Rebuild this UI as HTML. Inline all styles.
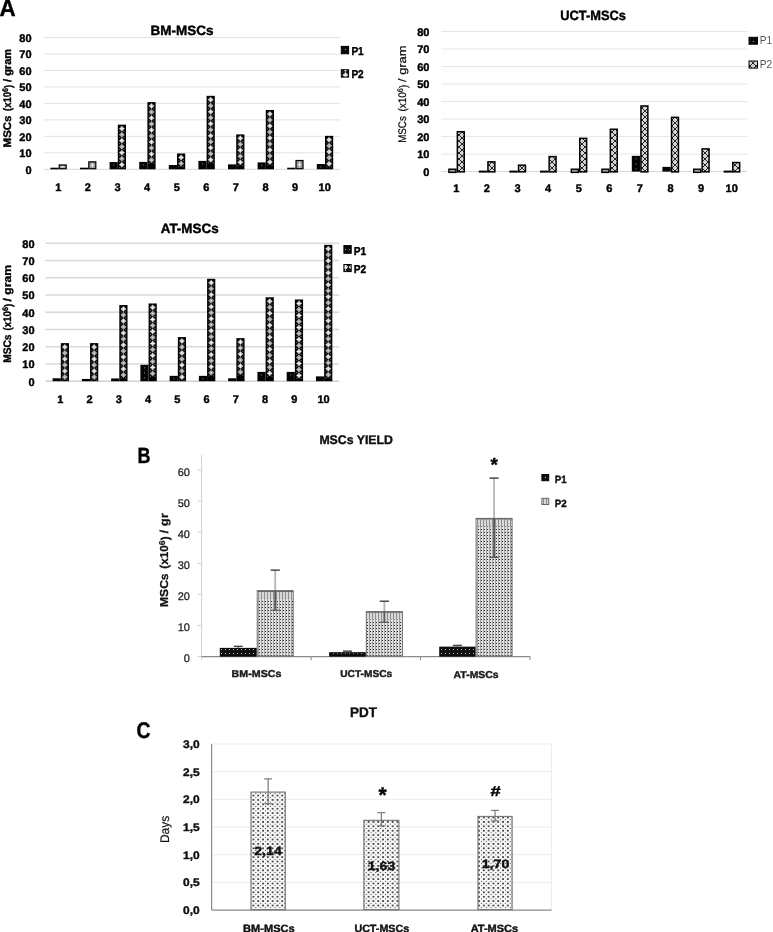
<!DOCTYPE html>
<html><head><meta charset="utf-8"><title>MSCs figure</title>
<style>
html,body{margin:0;padding:0;background:#fff;}
body{width:773px;height:932px;overflow:hidden;}
svg{display:block;font-family:"Liberation Sans", sans-serif;will-change:transform;}
</style></head>
<body>
<svg width="773" height="932" viewBox="0 0 773 932" shape-rendering="crispEdges">

<defs>
 <pattern id="pD" width="4" height="4" patternUnits="userSpaceOnUse">
  <rect width="4" height="4" fill="#0a0a0a"/>
  <rect x="1" y="1" width="1" height="1" fill="#9a9a9a"/>
 </pattern>
 <pattern id="pX" width="6" height="6" patternUnits="userSpaceOnUse">
  <rect width="6" height="6" fill="#1a1a1a"/>
  <path d="M0 3 L3 0 L6 3 L3 6 Z" fill="#b0b0b0"/>
  <rect x="2.5" y="1" width="1" height="4" fill="#f4f4f4"/>
  <rect x="1" y="2.5" width="4" height="1" fill="#f4f4f4"/>
 </pattern>
 <pattern id="pXL" width="6" height="6" patternUnits="userSpaceOnUse">
  <rect width="6" height="6" fill="#d4d4d4"/>
  <path d="M0 0 L6 6 M6 0 L0 6" stroke="#111" stroke-width="0.9"/>
  <rect x="2.6" y="0.8" width="0.8" height="1.4" fill="#ffffff"/>
  <rect x="2.6" y="3.8" width="0.8" height="1.4" fill="#ffffff"/>
  <rect x="0.6" y="2.6" width="1.4" height="0.8" fill="#ffffff"/>
  <rect x="4.0" y="2.6" width="1.4" height="0.8" fill="#ffffff"/>
 </pattern>
 <pattern id="pV" width="3" height="3" patternUnits="userSpaceOnUse">
  <rect width="3" height="3" fill="#e2e2e2"/>
  <rect x="0" y="0" width="1" height="3" fill="#a2a2a2"/>
  <rect x="1" y="1" width="1" height="1" fill="#2a2a2a"/>
 </pattern>
 <pattern id="pVs" width="3" height="3" patternUnits="userSpaceOnUse">
  <rect width="3" height="3" fill="#d8d8d8"/>
  <rect x="0" y="0" width="1" height="3" fill="#8e8e8e"/>
 </pattern>
 <pattern id="pB1" width="4" height="4" patternUnits="userSpaceOnUse">
  <rect width="4" height="4" fill="#111"/>
  <rect x="1" y="1" width="1" height="1" fill="#bbb"/>
 </pattern>
 <pattern id="pC" width="4.8" height="4.4" patternUnits="userSpaceOnUse">
  <rect width="4.8" height="4.4" fill="#f7f7f7"/>
  <rect x="0.7" y="0.6" width="1.5" height="1.3" fill="#2e2e2e"/>
  <rect x="3.1" y="2.8" width="1.5" height="1.3" fill="#4a4a4a"/>
 </pattern>
</defs>

<rect width="773" height="932" fill="#fff"/>
<g text-rendering="geometricPrecision" shape-rendering="auto">
<line x1="44.00" y1="169.30" x2="340.00" y2="169.30" stroke="#d6d6d6" stroke-width="1" />
<line x1="44.00" y1="152.83" x2="340.00" y2="152.83" stroke="#e2e2e2" stroke-width="1" />
<line x1="44.00" y1="136.35" x2="340.00" y2="136.35" stroke="#e2e2e2" stroke-width="1" />
<line x1="44.00" y1="119.88" x2="340.00" y2="119.88" stroke="#e2e2e2" stroke-width="1" />
<line x1="44.00" y1="103.40" x2="340.00" y2="103.40" stroke="#e2e2e2" stroke-width="1" />
<line x1="44.00" y1="86.92" x2="340.00" y2="86.92" stroke="#e2e2e2" stroke-width="1" />
<line x1="44.00" y1="70.45" x2="340.00" y2="70.45" stroke="#e2e2e2" stroke-width="1" />
<line x1="44.00" y1="53.97" x2="340.00" y2="53.97" stroke="#e2e2e2" stroke-width="1" />
<line x1="44.00" y1="37.50" x2="340.00" y2="37.50" stroke="#e2e2e2" stroke-width="1" />
<text x="31.60" y="173.60" font-size="11" font-weight="bold" fill="#000" stroke="#000" stroke-width="0.4" text-anchor="end" >0</text>
<text x="31.60" y="157.13" font-size="11" font-weight="bold" fill="#000" stroke="#000" stroke-width="0.4" text-anchor="end" >10</text>
<text x="31.60" y="140.65" font-size="11" font-weight="bold" fill="#000" stroke="#000" stroke-width="0.4" text-anchor="end" >20</text>
<text x="31.60" y="124.17" font-size="11" font-weight="bold" fill="#000" stroke="#000" stroke-width="0.4" text-anchor="end" >30</text>
<text x="31.60" y="107.70" font-size="11" font-weight="bold" fill="#000" stroke="#000" stroke-width="0.4" text-anchor="end" >40</text>
<text x="31.60" y="91.22" font-size="11" font-weight="bold" fill="#000" stroke="#000" stroke-width="0.4" text-anchor="end" >50</text>
<text x="31.60" y="74.75" font-size="11" font-weight="bold" fill="#000" stroke="#000" stroke-width="0.4" text-anchor="end" >60</text>
<text x="31.60" y="58.27" font-size="11" font-weight="bold" fill="#000" stroke="#000" stroke-width="0.4" text-anchor="end" >70</text>
<text x="31.60" y="41.80" font-size="11" font-weight="bold" fill="#000" stroke="#000" stroke-width="0.4" text-anchor="end" >80</text>
<rect x="50.40" y="167.70" width="8.20" height="1.60" fill="#000" />
<rect x="59.20" y="164.96" width="7.00" height="3.74" fill="#9a9a9a" stroke="#000" stroke-width="1.2" />
<line x1="60.90" y1="166.83" x2="64.50" y2="166.83" stroke="#f0f0f0" stroke-width="1" />
<line x1="62.70" y1="166.36" x2="62.70" y2="167.30" stroke="#f0f0f0" stroke-width="1" />
<text x="58.30" y="190.60" font-size="11" font-weight="bold" fill="#000" stroke="#000" stroke-width="0.4" text-anchor="middle" >1</text>
<rect x="80.00" y="167.70" width="8.20" height="1.60" fill="#000" />
<rect x="88.80" y="161.83" width="7.00" height="6.87" fill="#9a9a9a" stroke="#000" stroke-width="1.2" />
<line x1="90.50" y1="165.26" x2="94.10" y2="165.26" stroke="#f0f0f0" stroke-width="1" />
<line x1="92.30" y1="163.23" x2="92.30" y2="167.30" stroke="#f0f0f0" stroke-width="1" />
<text x="87.90" y="190.60" font-size="11" font-weight="bold" fill="#000" stroke="#000" stroke-width="0.4" text-anchor="middle" >2</text>
<rect x="109.60" y="162.05" width="8.20" height="7.25" fill="#050505" />
<rect x="113.20" y="164.55" width="1.00" height="1.00" fill="#8a8a8a" />
<rect x="117.80" y="124.65" width="8.20" height="44.65" fill="#000" />
<path d="M118.90 128.65 L121.90 125.65 L124.90 128.65 L121.90 131.65 Z" fill="#a4a4a4"/>
<line x1="119.90" y1="128.65" x2="123.90" y2="128.65" stroke="#f2f2f2" stroke-width="1" />
<line x1="121.90" y1="126.65" x2="121.90" y2="130.65" stroke="#f2f2f2" stroke-width="1" />
<rect x="119.20" y="131.15" width="1.00" height="1.00" fill="#7a7a7a" />
<rect x="123.60" y="131.15" width="1.00" height="1.00" fill="#7a7a7a" />
<path d="M118.90 134.65 L121.90 131.65 L124.90 134.65 L121.90 137.65 Z" fill="#a4a4a4"/>
<rect x="121.30" y="134.05" width="1.20" height="1.20" fill="#e8e8e8" />
<rect x="119.20" y="137.15" width="1.00" height="1.00" fill="#7a7a7a" />
<rect x="123.60" y="137.15" width="1.00" height="1.00" fill="#7a7a7a" />
<path d="M118.90 140.65 L121.90 137.65 L124.90 140.65 L121.90 143.65 Z" fill="#a4a4a4"/>
<line x1="119.90" y1="140.65" x2="123.90" y2="140.65" stroke="#f2f2f2" stroke-width="1" />
<line x1="121.90" y1="138.65" x2="121.90" y2="142.65" stroke="#f2f2f2" stroke-width="1" />
<rect x="119.20" y="143.15" width="1.00" height="1.00" fill="#7a7a7a" />
<rect x="123.60" y="143.15" width="1.00" height="1.00" fill="#7a7a7a" />
<path d="M118.90 146.65 L121.90 143.65 L124.90 146.65 L121.90 149.65 Z" fill="#a4a4a4"/>
<rect x="121.30" y="146.05" width="1.20" height="1.20" fill="#e8e8e8" />
<rect x="119.20" y="149.15" width="1.00" height="1.00" fill="#7a7a7a" />
<rect x="123.60" y="149.15" width="1.00" height="1.00" fill="#7a7a7a" />
<path d="M118.90 152.65 L121.90 149.65 L124.90 152.65 L121.90 155.65 Z" fill="#a4a4a4"/>
<line x1="119.90" y1="152.65" x2="123.90" y2="152.65" stroke="#f2f2f2" stroke-width="1" />
<line x1="121.90" y1="150.65" x2="121.90" y2="154.65" stroke="#f2f2f2" stroke-width="1" />
<rect x="119.20" y="155.15" width="1.00" height="1.00" fill="#7a7a7a" />
<rect x="123.60" y="155.15" width="1.00" height="1.00" fill="#7a7a7a" />
<path d="M118.90 158.65 L121.90 155.65 L124.90 158.65 L121.90 161.65 Z" fill="#a4a4a4"/>
<rect x="121.30" y="158.05" width="1.20" height="1.20" fill="#e8e8e8" />
<rect x="119.20" y="161.15" width="1.00" height="1.00" fill="#7a7a7a" />
<rect x="123.60" y="161.15" width="1.00" height="1.00" fill="#7a7a7a" />
<path d="M118.90 164.65 L121.90 161.65 L124.90 164.65 L121.90 167.65 Z" fill="#a4a4a4"/>
<line x1="119.90" y1="164.65" x2="123.90" y2="164.65" stroke="#f2f2f2" stroke-width="1" />
<line x1="121.90" y1="162.65" x2="121.90" y2="166.65" stroke="#f2f2f2" stroke-width="1" />
<rect x="119.20" y="167.15" width="1.00" height="1.00" fill="#7a7a7a" />
<rect x="123.60" y="167.15" width="1.00" height="1.00" fill="#7a7a7a" />
<text x="117.50" y="190.60" font-size="11" font-weight="bold" fill="#000" stroke="#000" stroke-width="0.4" text-anchor="middle" >3</text>
<rect x="139.20" y="161.89" width="8.20" height="7.41" fill="#050505" />
<rect x="142.80" y="164.39" width="1.00" height="1.00" fill="#8a8a8a" />
<rect x="147.40" y="102.08" width="8.20" height="67.22" fill="#000" />
<path d="M148.50 106.08 L151.50 103.08 L154.50 106.08 L151.50 109.08 Z" fill="#a4a4a4"/>
<line x1="149.50" y1="106.08" x2="153.50" y2="106.08" stroke="#f2f2f2" stroke-width="1" />
<line x1="151.50" y1="104.08" x2="151.50" y2="108.08" stroke="#f2f2f2" stroke-width="1" />
<rect x="148.80" y="108.58" width="1.00" height="1.00" fill="#7a7a7a" />
<rect x="153.20" y="108.58" width="1.00" height="1.00" fill="#7a7a7a" />
<path d="M148.50 112.08 L151.50 109.08 L154.50 112.08 L151.50 115.08 Z" fill="#a4a4a4"/>
<rect x="150.90" y="111.48" width="1.20" height="1.20" fill="#e8e8e8" />
<rect x="148.80" y="114.58" width="1.00" height="1.00" fill="#7a7a7a" />
<rect x="153.20" y="114.58" width="1.00" height="1.00" fill="#7a7a7a" />
<path d="M148.50 118.08 L151.50 115.08 L154.50 118.08 L151.50 121.08 Z" fill="#a4a4a4"/>
<line x1="149.50" y1="118.08" x2="153.50" y2="118.08" stroke="#f2f2f2" stroke-width="1" />
<line x1="151.50" y1="116.08" x2="151.50" y2="120.08" stroke="#f2f2f2" stroke-width="1" />
<rect x="148.80" y="120.58" width="1.00" height="1.00" fill="#7a7a7a" />
<rect x="153.20" y="120.58" width="1.00" height="1.00" fill="#7a7a7a" />
<path d="M148.50 124.08 L151.50 121.08 L154.50 124.08 L151.50 127.08 Z" fill="#a4a4a4"/>
<rect x="150.90" y="123.48" width="1.20" height="1.20" fill="#e8e8e8" />
<rect x="148.80" y="126.58" width="1.00" height="1.00" fill="#7a7a7a" />
<rect x="153.20" y="126.58" width="1.00" height="1.00" fill="#7a7a7a" />
<path d="M148.50 130.08 L151.50 127.08 L154.50 130.08 L151.50 133.08 Z" fill="#a4a4a4"/>
<line x1="149.50" y1="130.08" x2="153.50" y2="130.08" stroke="#f2f2f2" stroke-width="1" />
<line x1="151.50" y1="128.08" x2="151.50" y2="132.08" stroke="#f2f2f2" stroke-width="1" />
<rect x="148.80" y="132.58" width="1.00" height="1.00" fill="#7a7a7a" />
<rect x="153.20" y="132.58" width="1.00" height="1.00" fill="#7a7a7a" />
<path d="M148.50 136.08 L151.50 133.08 L154.50 136.08 L151.50 139.08 Z" fill="#a4a4a4"/>
<rect x="150.90" y="135.48" width="1.20" height="1.20" fill="#e8e8e8" />
<rect x="148.80" y="138.58" width="1.00" height="1.00" fill="#7a7a7a" />
<rect x="153.20" y="138.58" width="1.00" height="1.00" fill="#7a7a7a" />
<path d="M148.50 142.08 L151.50 139.08 L154.50 142.08 L151.50 145.08 Z" fill="#a4a4a4"/>
<line x1="149.50" y1="142.08" x2="153.50" y2="142.08" stroke="#f2f2f2" stroke-width="1" />
<line x1="151.50" y1="140.08" x2="151.50" y2="144.08" stroke="#f2f2f2" stroke-width="1" />
<rect x="148.80" y="144.58" width="1.00" height="1.00" fill="#7a7a7a" />
<rect x="153.20" y="144.58" width="1.00" height="1.00" fill="#7a7a7a" />
<path d="M148.50 148.08 L151.50 145.08 L154.50 148.08 L151.50 151.08 Z" fill="#a4a4a4"/>
<rect x="150.90" y="147.48" width="1.20" height="1.20" fill="#e8e8e8" />
<rect x="148.80" y="150.58" width="1.00" height="1.00" fill="#7a7a7a" />
<rect x="153.20" y="150.58" width="1.00" height="1.00" fill="#7a7a7a" />
<path d="M148.50 154.08 L151.50 151.08 L154.50 154.08 L151.50 157.08 Z" fill="#a4a4a4"/>
<line x1="149.50" y1="154.08" x2="153.50" y2="154.08" stroke="#f2f2f2" stroke-width="1" />
<line x1="151.50" y1="152.08" x2="151.50" y2="156.08" stroke="#f2f2f2" stroke-width="1" />
<rect x="148.80" y="156.58" width="1.00" height="1.00" fill="#7a7a7a" />
<rect x="153.20" y="156.58" width="1.00" height="1.00" fill="#7a7a7a" />
<path d="M148.50 160.08 L151.50 157.08 L154.50 160.08 L151.50 163.08 Z" fill="#a4a4a4"/>
<rect x="150.90" y="159.48" width="1.20" height="1.20" fill="#e8e8e8" />
<rect x="148.80" y="162.58" width="1.00" height="1.00" fill="#7a7a7a" />
<rect x="153.20" y="162.58" width="1.00" height="1.00" fill="#7a7a7a" />
<text x="147.10" y="190.60" font-size="11" font-weight="bold" fill="#000" stroke="#000" stroke-width="0.4" text-anchor="middle" >4</text>
<rect x="168.80" y="165.02" width="8.20" height="4.28" fill="#050505" />
<rect x="177.00" y="153.48" width="8.20" height="15.82" fill="#000" />
<path d="M178.10 157.48 L181.10 154.48 L184.10 157.48 L181.10 160.48 Z" fill="#a4a4a4"/>
<line x1="179.10" y1="157.48" x2="183.10" y2="157.48" stroke="#f2f2f2" stroke-width="1" />
<line x1="181.10" y1="155.48" x2="181.10" y2="159.48" stroke="#f2f2f2" stroke-width="1" />
<rect x="178.40" y="159.98" width="1.00" height="1.00" fill="#7a7a7a" />
<rect x="182.80" y="159.98" width="1.00" height="1.00" fill="#7a7a7a" />
<path d="M178.10 163.48 L181.10 160.48 L184.10 163.48 L181.10 166.48 Z" fill="#a4a4a4"/>
<rect x="180.50" y="162.88" width="1.20" height="1.20" fill="#e8e8e8" />
<rect x="178.40" y="165.98" width="1.00" height="1.00" fill="#7a7a7a" />
<rect x="182.80" y="165.98" width="1.00" height="1.00" fill="#7a7a7a" />
<text x="176.70" y="190.60" font-size="11" font-weight="bold" fill="#000" stroke="#000" stroke-width="0.4" text-anchor="middle" >5</text>
<rect x="198.40" y="160.90" width="8.20" height="8.40" fill="#050505" />
<rect x="202.00" y="163.40" width="1.00" height="1.00" fill="#8a8a8a" />
<rect x="206.60" y="95.82" width="8.20" height="73.48" fill="#000" />
<path d="M207.70 99.82 L210.70 96.82 L213.70 99.82 L210.70 102.82 Z" fill="#a4a4a4"/>
<line x1="208.70" y1="99.82" x2="212.70" y2="99.82" stroke="#f2f2f2" stroke-width="1" />
<line x1="210.70" y1="97.82" x2="210.70" y2="101.82" stroke="#f2f2f2" stroke-width="1" />
<rect x="208.00" y="102.32" width="1.00" height="1.00" fill="#7a7a7a" />
<rect x="212.40" y="102.32" width="1.00" height="1.00" fill="#7a7a7a" />
<path d="M207.70 105.82 L210.70 102.82 L213.70 105.82 L210.70 108.82 Z" fill="#a4a4a4"/>
<rect x="210.10" y="105.22" width="1.20" height="1.20" fill="#e8e8e8" />
<rect x="208.00" y="108.32" width="1.00" height="1.00" fill="#7a7a7a" />
<rect x="212.40" y="108.32" width="1.00" height="1.00" fill="#7a7a7a" />
<path d="M207.70 111.82 L210.70 108.82 L213.70 111.82 L210.70 114.82 Z" fill="#a4a4a4"/>
<line x1="208.70" y1="111.82" x2="212.70" y2="111.82" stroke="#f2f2f2" stroke-width="1" />
<line x1="210.70" y1="109.82" x2="210.70" y2="113.82" stroke="#f2f2f2" stroke-width="1" />
<rect x="208.00" y="114.32" width="1.00" height="1.00" fill="#7a7a7a" />
<rect x="212.40" y="114.32" width="1.00" height="1.00" fill="#7a7a7a" />
<path d="M207.70 117.82 L210.70 114.82 L213.70 117.82 L210.70 120.82 Z" fill="#a4a4a4"/>
<rect x="210.10" y="117.22" width="1.20" height="1.20" fill="#e8e8e8" />
<rect x="208.00" y="120.32" width="1.00" height="1.00" fill="#7a7a7a" />
<rect x="212.40" y="120.32" width="1.00" height="1.00" fill="#7a7a7a" />
<path d="M207.70 123.82 L210.70 120.82 L213.70 123.82 L210.70 126.82 Z" fill="#a4a4a4"/>
<line x1="208.70" y1="123.82" x2="212.70" y2="123.82" stroke="#f2f2f2" stroke-width="1" />
<line x1="210.70" y1="121.82" x2="210.70" y2="125.82" stroke="#f2f2f2" stroke-width="1" />
<rect x="208.00" y="126.32" width="1.00" height="1.00" fill="#7a7a7a" />
<rect x="212.40" y="126.32" width="1.00" height="1.00" fill="#7a7a7a" />
<path d="M207.70 129.82 L210.70 126.82 L213.70 129.82 L210.70 132.82 Z" fill="#a4a4a4"/>
<rect x="210.10" y="129.22" width="1.20" height="1.20" fill="#e8e8e8" />
<rect x="208.00" y="132.32" width="1.00" height="1.00" fill="#7a7a7a" />
<rect x="212.40" y="132.32" width="1.00" height="1.00" fill="#7a7a7a" />
<path d="M207.70 135.82 L210.70 132.82 L213.70 135.82 L210.70 138.82 Z" fill="#a4a4a4"/>
<line x1="208.70" y1="135.82" x2="212.70" y2="135.82" stroke="#f2f2f2" stroke-width="1" />
<line x1="210.70" y1="133.82" x2="210.70" y2="137.82" stroke="#f2f2f2" stroke-width="1" />
<rect x="208.00" y="138.32" width="1.00" height="1.00" fill="#7a7a7a" />
<rect x="212.40" y="138.32" width="1.00" height="1.00" fill="#7a7a7a" />
<path d="M207.70 141.82 L210.70 138.82 L213.70 141.82 L210.70 144.82 Z" fill="#a4a4a4"/>
<rect x="210.10" y="141.22" width="1.20" height="1.20" fill="#e8e8e8" />
<rect x="208.00" y="144.32" width="1.00" height="1.00" fill="#7a7a7a" />
<rect x="212.40" y="144.32" width="1.00" height="1.00" fill="#7a7a7a" />
<path d="M207.70 147.82 L210.70 144.82 L213.70 147.82 L210.70 150.82 Z" fill="#a4a4a4"/>
<line x1="208.70" y1="147.82" x2="212.70" y2="147.82" stroke="#f2f2f2" stroke-width="1" />
<line x1="210.70" y1="145.82" x2="210.70" y2="149.82" stroke="#f2f2f2" stroke-width="1" />
<rect x="208.00" y="150.32" width="1.00" height="1.00" fill="#7a7a7a" />
<rect x="212.40" y="150.32" width="1.00" height="1.00" fill="#7a7a7a" />
<path d="M207.70 153.82 L210.70 150.82 L213.70 153.82 L210.70 156.82 Z" fill="#a4a4a4"/>
<rect x="210.10" y="153.22" width="1.20" height="1.20" fill="#e8e8e8" />
<rect x="208.00" y="156.32" width="1.00" height="1.00" fill="#7a7a7a" />
<rect x="212.40" y="156.32" width="1.00" height="1.00" fill="#7a7a7a" />
<path d="M207.70 159.82 L210.70 156.82 L213.70 159.82 L210.70 162.82 Z" fill="#a4a4a4"/>
<line x1="208.70" y1="159.82" x2="212.70" y2="159.82" stroke="#f2f2f2" stroke-width="1" />
<line x1="210.70" y1="157.82" x2="210.70" y2="161.82" stroke="#f2f2f2" stroke-width="1" />
<rect x="208.00" y="162.32" width="1.00" height="1.00" fill="#7a7a7a" />
<rect x="212.40" y="162.32" width="1.00" height="1.00" fill="#7a7a7a" />
<text x="206.30" y="190.60" font-size="11" font-weight="bold" fill="#000" stroke="#000" stroke-width="0.4" text-anchor="middle" >6</text>
<rect x="228.00" y="164.36" width="8.20" height="4.94" fill="#050505" />
<rect x="236.20" y="134.37" width="8.20" height="34.93" fill="#000" />
<path d="M237.30 138.37 L240.30 135.37 L243.30 138.37 L240.30 141.37 Z" fill="#a4a4a4"/>
<line x1="238.30" y1="138.37" x2="242.30" y2="138.37" stroke="#f2f2f2" stroke-width="1" />
<line x1="240.30" y1="136.37" x2="240.30" y2="140.37" stroke="#f2f2f2" stroke-width="1" />
<rect x="237.60" y="140.87" width="1.00" height="1.00" fill="#7a7a7a" />
<rect x="242.00" y="140.87" width="1.00" height="1.00" fill="#7a7a7a" />
<path d="M237.30 144.37 L240.30 141.37 L243.30 144.37 L240.30 147.37 Z" fill="#a4a4a4"/>
<rect x="239.70" y="143.77" width="1.20" height="1.20" fill="#e8e8e8" />
<rect x="237.60" y="146.87" width="1.00" height="1.00" fill="#7a7a7a" />
<rect x="242.00" y="146.87" width="1.00" height="1.00" fill="#7a7a7a" />
<path d="M237.30 150.37 L240.30 147.37 L243.30 150.37 L240.30 153.37 Z" fill="#a4a4a4"/>
<line x1="238.30" y1="150.37" x2="242.30" y2="150.37" stroke="#f2f2f2" stroke-width="1" />
<line x1="240.30" y1="148.37" x2="240.30" y2="152.37" stroke="#f2f2f2" stroke-width="1" />
<rect x="237.60" y="152.87" width="1.00" height="1.00" fill="#7a7a7a" />
<rect x="242.00" y="152.87" width="1.00" height="1.00" fill="#7a7a7a" />
<path d="M237.30 156.37 L240.30 153.37 L243.30 156.37 L240.30 159.37 Z" fill="#a4a4a4"/>
<rect x="239.70" y="155.77" width="1.20" height="1.20" fill="#e8e8e8" />
<rect x="237.60" y="158.87" width="1.00" height="1.00" fill="#7a7a7a" />
<rect x="242.00" y="158.87" width="1.00" height="1.00" fill="#7a7a7a" />
<path d="M237.30 162.37 L240.30 159.37 L243.30 162.37 L240.30 165.37 Z" fill="#a4a4a4"/>
<line x1="238.30" y1="162.37" x2="242.30" y2="162.37" stroke="#f2f2f2" stroke-width="1" />
<line x1="240.30" y1="160.37" x2="240.30" y2="164.37" stroke="#f2f2f2" stroke-width="1" />
<rect x="237.60" y="164.87" width="1.00" height="1.00" fill="#7a7a7a" />
<rect x="242.00" y="164.87" width="1.00" height="1.00" fill="#7a7a7a" />
<text x="235.90" y="190.60" font-size="11" font-weight="bold" fill="#000" stroke="#000" stroke-width="0.4" text-anchor="middle" >7</text>
<rect x="257.60" y="162.38" width="8.20" height="6.92" fill="#050505" />
<rect x="261.20" y="164.88" width="1.00" height="1.00" fill="#8a8a8a" />
<rect x="265.80" y="109.99" width="8.20" height="59.31" fill="#000" />
<path d="M266.90 113.99 L269.90 110.99 L272.90 113.99 L269.90 116.99 Z" fill="#a4a4a4"/>
<line x1="267.90" y1="113.99" x2="271.90" y2="113.99" stroke="#f2f2f2" stroke-width="1" />
<line x1="269.90" y1="111.99" x2="269.90" y2="115.99" stroke="#f2f2f2" stroke-width="1" />
<rect x="267.20" y="116.49" width="1.00" height="1.00" fill="#7a7a7a" />
<rect x="271.60" y="116.49" width="1.00" height="1.00" fill="#7a7a7a" />
<path d="M266.90 119.99 L269.90 116.99 L272.90 119.99 L269.90 122.99 Z" fill="#a4a4a4"/>
<rect x="269.30" y="119.39" width="1.20" height="1.20" fill="#e8e8e8" />
<rect x="267.20" y="122.49" width="1.00" height="1.00" fill="#7a7a7a" />
<rect x="271.60" y="122.49" width="1.00" height="1.00" fill="#7a7a7a" />
<path d="M266.90 125.99 L269.90 122.99 L272.90 125.99 L269.90 128.99 Z" fill="#a4a4a4"/>
<line x1="267.90" y1="125.99" x2="271.90" y2="125.99" stroke="#f2f2f2" stroke-width="1" />
<line x1="269.90" y1="123.99" x2="269.90" y2="127.99" stroke="#f2f2f2" stroke-width="1" />
<rect x="267.20" y="128.49" width="1.00" height="1.00" fill="#7a7a7a" />
<rect x="271.60" y="128.49" width="1.00" height="1.00" fill="#7a7a7a" />
<path d="M266.90 131.99 L269.90 128.99 L272.90 131.99 L269.90 134.99 Z" fill="#a4a4a4"/>
<rect x="269.30" y="131.39" width="1.20" height="1.20" fill="#e8e8e8" />
<rect x="267.20" y="134.49" width="1.00" height="1.00" fill="#7a7a7a" />
<rect x="271.60" y="134.49" width="1.00" height="1.00" fill="#7a7a7a" />
<path d="M266.90 137.99 L269.90 134.99 L272.90 137.99 L269.90 140.99 Z" fill="#a4a4a4"/>
<line x1="267.90" y1="137.99" x2="271.90" y2="137.99" stroke="#f2f2f2" stroke-width="1" />
<line x1="269.90" y1="135.99" x2="269.90" y2="139.99" stroke="#f2f2f2" stroke-width="1" />
<rect x="267.20" y="140.49" width="1.00" height="1.00" fill="#7a7a7a" />
<rect x="271.60" y="140.49" width="1.00" height="1.00" fill="#7a7a7a" />
<path d="M266.90 143.99 L269.90 140.99 L272.90 143.99 L269.90 146.99 Z" fill="#a4a4a4"/>
<rect x="269.30" y="143.39" width="1.20" height="1.20" fill="#e8e8e8" />
<rect x="267.20" y="146.49" width="1.00" height="1.00" fill="#7a7a7a" />
<rect x="271.60" y="146.49" width="1.00" height="1.00" fill="#7a7a7a" />
<path d="M266.90 149.99 L269.90 146.99 L272.90 149.99 L269.90 152.99 Z" fill="#a4a4a4"/>
<line x1="267.90" y1="149.99" x2="271.90" y2="149.99" stroke="#f2f2f2" stroke-width="1" />
<line x1="269.90" y1="147.99" x2="269.90" y2="151.99" stroke="#f2f2f2" stroke-width="1" />
<rect x="267.20" y="152.49" width="1.00" height="1.00" fill="#7a7a7a" />
<rect x="271.60" y="152.49" width="1.00" height="1.00" fill="#7a7a7a" />
<path d="M266.90 155.99 L269.90 152.99 L272.90 155.99 L269.90 158.99 Z" fill="#a4a4a4"/>
<rect x="269.30" y="155.39" width="1.20" height="1.20" fill="#e8e8e8" />
<rect x="267.20" y="158.49" width="1.00" height="1.00" fill="#7a7a7a" />
<rect x="271.60" y="158.49" width="1.00" height="1.00" fill="#7a7a7a" />
<path d="M266.90 161.99 L269.90 158.99 L272.90 161.99 L269.90 164.99 Z" fill="#a4a4a4"/>
<line x1="267.90" y1="161.99" x2="271.90" y2="161.99" stroke="#f2f2f2" stroke-width="1" />
<line x1="269.90" y1="159.99" x2="269.90" y2="163.99" stroke="#f2f2f2" stroke-width="1" />
<rect x="267.20" y="164.49" width="1.00" height="1.00" fill="#7a7a7a" />
<rect x="271.60" y="164.49" width="1.00" height="1.00" fill="#7a7a7a" />
<text x="265.50" y="190.60" font-size="11" font-weight="bold" fill="#000" stroke="#000" stroke-width="0.4" text-anchor="middle" >8</text>
<rect x="287.20" y="167.70" width="8.20" height="1.60" fill="#000" />
<rect x="296.00" y="160.51" width="7.00" height="8.19" fill="#9a9a9a" stroke="#000" stroke-width="1.2" />
<line x1="297.70" y1="164.60" x2="301.30" y2="164.60" stroke="#f0f0f0" stroke-width="1" />
<line x1="299.50" y1="161.91" x2="299.50" y2="167.30" stroke="#f0f0f0" stroke-width="1" />
<text x="295.10" y="190.60" font-size="11" font-weight="bold" fill="#000" stroke="#000" stroke-width="0.4" text-anchor="middle" >9</text>
<rect x="316.80" y="164.03" width="8.20" height="5.27" fill="#050505" />
<rect x="320.40" y="166.53" width="1.00" height="1.00" fill="#8a8a8a" />
<rect x="325.00" y="135.86" width="8.20" height="33.44" fill="#000" />
<path d="M326.10 139.86 L329.10 136.86 L332.10 139.86 L329.10 142.86 Z" fill="#a4a4a4"/>
<line x1="327.10" y1="139.86" x2="331.10" y2="139.86" stroke="#f2f2f2" stroke-width="1" />
<line x1="329.10" y1="137.86" x2="329.10" y2="141.86" stroke="#f2f2f2" stroke-width="1" />
<rect x="326.40" y="142.36" width="1.00" height="1.00" fill="#7a7a7a" />
<rect x="330.80" y="142.36" width="1.00" height="1.00" fill="#7a7a7a" />
<path d="M326.10 145.86 L329.10 142.86 L332.10 145.86 L329.10 148.86 Z" fill="#a4a4a4"/>
<rect x="328.50" y="145.26" width="1.20" height="1.20" fill="#e8e8e8" />
<rect x="326.40" y="148.36" width="1.00" height="1.00" fill="#7a7a7a" />
<rect x="330.80" y="148.36" width="1.00" height="1.00" fill="#7a7a7a" />
<path d="M326.10 151.86 L329.10 148.86 L332.10 151.86 L329.10 154.86 Z" fill="#a4a4a4"/>
<line x1="327.10" y1="151.86" x2="331.10" y2="151.86" stroke="#f2f2f2" stroke-width="1" />
<line x1="329.10" y1="149.86" x2="329.10" y2="153.86" stroke="#f2f2f2" stroke-width="1" />
<rect x="326.40" y="154.36" width="1.00" height="1.00" fill="#7a7a7a" />
<rect x="330.80" y="154.36" width="1.00" height="1.00" fill="#7a7a7a" />
<path d="M326.10 157.86 L329.10 154.86 L332.10 157.86 L329.10 160.86 Z" fill="#a4a4a4"/>
<rect x="328.50" y="157.26" width="1.20" height="1.20" fill="#e8e8e8" />
<rect x="326.40" y="160.36" width="1.00" height="1.00" fill="#7a7a7a" />
<rect x="330.80" y="160.36" width="1.00" height="1.00" fill="#7a7a7a" />
<path d="M326.10 163.86 L329.10 160.86 L332.10 163.86 L329.10 166.86 Z" fill="#a4a4a4"/>
<line x1="327.10" y1="163.86" x2="331.10" y2="163.86" stroke="#f2f2f2" stroke-width="1" />
<line x1="329.10" y1="161.86" x2="329.10" y2="165.86" stroke="#f2f2f2" stroke-width="1" />
<rect x="326.40" y="166.36" width="1.00" height="1.00" fill="#7a7a7a" />
<rect x="330.80" y="166.36" width="1.00" height="1.00" fill="#7a7a7a" />
<text x="324.70" y="190.60" font-size="11" font-weight="bold" fill="#000" stroke="#000" stroke-width="0.4" text-anchor="middle" >10</text>
<text x="182.10" y="35.20" font-size="13.5" font-weight="bold" fill="#000" stroke="#000" stroke-width="0.4" text-anchor="middle" textLength="63.00" lengthAdjust="spacingAndGlyphs" >BM-MSCs</text>
<g transform="translate(11.20 0) rotate(-90)" font-size="11" font-weight="bold" fill="#000" stroke="#000" stroke-width="0.35"><text x="-147.40" y="0" textLength="31.80" lengthAdjust="spacingAndGlyphs">MSCs</text><text x="-111.00" y="0" textLength="26.20" lengthAdjust="spacingAndGlyphs">(x10<tspan font-size="0.74em" dy="-0.36em">6</tspan><tspan dy="0.36em">)</tspan></text><text x="-82.00" y="0" textLength="33.10" lengthAdjust="spacingAndGlyphs">/ gram</text></g>
<rect x="341.30" y="46.40" width="7.30" height="7.40" fill="url(#pD)" stroke="#000" stroke-width="1" />
<rect x="341.30" y="69.70" width="7.30" height="7.40" fill="url(#pX)" stroke="#000" stroke-width="1" />
<text x="351.40" y="55.10" font-size="11.5" font-weight="bold" fill="#000" stroke="#000" stroke-width="0.4" textLength="12.30" lengthAdjust="spacingAndGlyphs" >P1</text>
<text x="351.40" y="78.40" font-size="11.5" font-weight="bold" fill="#000" stroke="#000" stroke-width="0.4" textLength="12.30" lengthAdjust="spacingAndGlyphs" >P2</text>
<line x1="441.40" y1="171.60" x2="747.00" y2="171.60" stroke="#d6d6d6" stroke-width="1" />
<line x1="441.40" y1="154.09" x2="747.00" y2="154.09" stroke="#e6e6e6" stroke-width="1" />
<line x1="441.40" y1="136.57" x2="747.00" y2="136.57" stroke="#e6e6e6" stroke-width="1" />
<line x1="441.40" y1="119.06" x2="747.00" y2="119.06" stroke="#e6e6e6" stroke-width="1" />
<line x1="441.40" y1="101.55" x2="747.00" y2="101.55" stroke="#e6e6e6" stroke-width="1" />
<line x1="441.40" y1="84.04" x2="747.00" y2="84.04" stroke="#e6e6e6" stroke-width="1" />
<line x1="441.40" y1="66.52" x2="747.00" y2="66.52" stroke="#e6e6e6" stroke-width="1" />
<line x1="441.40" y1="49.01" x2="747.00" y2="49.01" stroke="#e6e6e6" stroke-width="1" />
<line x1="441.40" y1="31.50" x2="747.00" y2="31.50" stroke="#e6e6e6" stroke-width="1" />
<text x="429.40" y="175.80" font-size="11" font-weight="bold" fill="#000" stroke="#000" stroke-width="0.4" text-anchor="end" >0</text>
<text x="429.40" y="158.29" font-size="11" font-weight="bold" fill="#000" stroke="#000" stroke-width="0.4" text-anchor="end" >10</text>
<text x="429.40" y="140.77" font-size="11" font-weight="bold" fill="#000" stroke="#000" stroke-width="0.4" text-anchor="end" >20</text>
<text x="429.40" y="123.26" font-size="11" font-weight="bold" fill="#000" stroke="#000" stroke-width="0.4" text-anchor="end" >30</text>
<text x="429.40" y="105.75" font-size="11" font-weight="bold" fill="#000" stroke="#000" stroke-width="0.4" text-anchor="end" >40</text>
<text x="429.40" y="88.24" font-size="11" font-weight="bold" fill="#000" stroke="#000" stroke-width="0.4" text-anchor="end" >50</text>
<text x="429.40" y="70.72" font-size="11" font-weight="bold" fill="#000" stroke="#000" stroke-width="0.4" text-anchor="end" >60</text>
<text x="429.40" y="53.21" font-size="11" font-weight="bold" fill="#000" stroke="#000" stroke-width="0.4" text-anchor="end" >70</text>
<text x="429.40" y="35.70" font-size="11" font-weight="bold" fill="#000" stroke="#000" stroke-width="0.4" text-anchor="end" >80</text>
<rect x="448.90" y="169.20" width="7.00" height="3.20" fill="#9a9a9a" stroke="#000" stroke-width="1.4" />
<rect x="457.35" y="131.72" width="6.90" height="40.13" fill="url(#pXL)" stroke="#000" stroke-width="1.5" />
<text x="456.30" y="191.80" font-size="11" font-weight="bold" fill="#000" stroke="#000" stroke-width="0.4" text-anchor="middle" >1</text>
<rect x="478.80" y="170.60" width="8.40" height="2.00" fill="#000" />
<rect x="487.95" y="161.84" width="6.90" height="10.01" fill="url(#pXL)" stroke="#000" stroke-width="1.5" />
<text x="486.90" y="191.80" font-size="11" font-weight="bold" fill="#000" stroke="#000" stroke-width="0.4" text-anchor="middle" >2</text>
<rect x="509.40" y="170.60" width="8.40" height="2.00" fill="#000" />
<rect x="518.55" y="165.17" width="6.90" height="6.68" fill="url(#pXL)" stroke="#000" stroke-width="1.5" />
<text x="517.50" y="191.80" font-size="11" font-weight="bold" fill="#000" stroke="#000" stroke-width="0.4" text-anchor="middle" >3</text>
<rect x="540.00" y="170.60" width="8.40" height="2.00" fill="#000" />
<rect x="549.15" y="156.59" width="6.90" height="15.26" fill="url(#pXL)" stroke="#000" stroke-width="1.5" />
<text x="548.10" y="191.80" font-size="11" font-weight="bold" fill="#000" stroke="#000" stroke-width="0.4" text-anchor="middle" >4</text>
<rect x="571.30" y="169.20" width="7.00" height="3.20" fill="#9a9a9a" stroke="#000" stroke-width="1.4" />
<rect x="579.75" y="138.38" width="6.90" height="33.47" fill="url(#pXL)" stroke="#000" stroke-width="1.5" />
<text x="578.70" y="191.80" font-size="11" font-weight="bold" fill="#000" stroke="#000" stroke-width="0.4" text-anchor="middle" >5</text>
<rect x="601.90" y="169.20" width="7.00" height="3.20" fill="#9a9a9a" stroke="#000" stroke-width="1.4" />
<rect x="610.35" y="129.27" width="6.90" height="42.58" fill="url(#pXL)" stroke="#000" stroke-width="1.5" />
<text x="609.30" y="191.80" font-size="11" font-weight="bold" fill="#000" stroke="#000" stroke-width="0.4" text-anchor="middle" >6</text>
<rect x="631.80" y="155.84" width="8.40" height="15.76" fill="#050505" />
<rect x="635.50" y="158.34" width="1.00" height="1.00" fill="#8a8a8a" />
<rect x="635.50" y="163.34" width="1.00" height="1.00" fill="#8a8a8a" />
<rect x="635.50" y="168.34" width="1.00" height="1.00" fill="#8a8a8a" />
<rect x="640.95" y="105.98" width="6.90" height="65.87" fill="url(#pXL)" stroke="#000" stroke-width="1.5" />
<text x="639.90" y="191.80" font-size="11" font-weight="bold" fill="#000" stroke="#000" stroke-width="0.4" text-anchor="middle" >7</text>
<rect x="662.40" y="166.87" width="8.40" height="4.73" fill="#050505" />
<rect x="671.55" y="117.36" width="6.90" height="54.49" fill="url(#pXL)" stroke="#000" stroke-width="1.5" />
<text x="670.50" y="191.80" font-size="11" font-weight="bold" fill="#000" stroke="#000" stroke-width="0.4" text-anchor="middle" >8</text>
<rect x="693.70" y="169.20" width="7.00" height="3.20" fill="#9a9a9a" stroke="#000" stroke-width="1.4" />
<rect x="702.15" y="148.88" width="6.90" height="22.97" fill="url(#pXL)" stroke="#000" stroke-width="1.5" />
<text x="701.10" y="191.80" font-size="11" font-weight="bold" fill="#000" stroke="#000" stroke-width="0.4" text-anchor="middle" >9</text>
<rect x="723.60" y="170.60" width="8.40" height="2.00" fill="#000" />
<rect x="732.75" y="162.54" width="6.90" height="9.31" fill="url(#pXL)" stroke="#000" stroke-width="1.5" />
<text x="731.70" y="191.80" font-size="11" font-weight="bold" fill="#000" stroke="#000" stroke-width="0.4" text-anchor="middle" >10</text>
<text x="593.05" y="20.20" font-size="13.5" font-weight="bold" fill="#000" stroke="#000" stroke-width="0.4" text-anchor="middle" textLength="65.70" lengthAdjust="spacingAndGlyphs" >UCT-MSCs</text>
<g transform="translate(406.30 0) rotate(-90)" font-size="11" font-weight="normal" fill="#000" stroke="#000" stroke-width="0.2"><text x="-142.80" y="0" textLength="26.60" lengthAdjust="spacingAndGlyphs">MSCs</text><text x="-111.60" y="0" textLength="26.80" lengthAdjust="spacingAndGlyphs">(x10<tspan font-size="0.74em" dy="-0.36em">6</tspan><tspan dy="0.36em">)</tspan></text><text x="-82.00" y="0" textLength="36.50" lengthAdjust="spacingAndGlyphs">/ gram</text></g>
<rect x="749.00" y="37.30" width="8.50" height="6.90" fill="url(#pD)" stroke="#000" stroke-width="1" />
<rect x="749.00" y="61.00" width="8.50" height="7.10" fill="url(#pXL)" stroke="#000" stroke-width="1" />
<text x="759.80" y="44.30" font-size="11.5" font-weight="normal" fill="#595959" textLength="12.50" lengthAdjust="spacingAndGlyphs" >P1</text>
<text x="759.80" y="68.20" font-size="11.5" font-weight="normal" fill="#595959" textLength="12.50" lengthAdjust="spacingAndGlyphs" >P2</text>
<line x1="45.50" y1="381.20" x2="339.20" y2="381.20" stroke="#d0d0d0" stroke-width="1.4" />
<line x1="45.50" y1="363.96" x2="339.20" y2="363.96" stroke="#d8d8d8" stroke-width="1.4" />
<line x1="45.50" y1="346.73" x2="339.20" y2="346.73" stroke="#d8d8d8" stroke-width="1.4" />
<line x1="45.50" y1="329.49" x2="339.20" y2="329.49" stroke="#d8d8d8" stroke-width="1.4" />
<line x1="45.50" y1="312.25" x2="339.20" y2="312.25" stroke="#d8d8d8" stroke-width="1.4" />
<line x1="45.50" y1="295.01" x2="339.20" y2="295.01" stroke="#d8d8d8" stroke-width="1.4" />
<line x1="45.50" y1="277.77" x2="339.20" y2="277.77" stroke="#d8d8d8" stroke-width="1.4" />
<line x1="45.50" y1="260.54" x2="339.20" y2="260.54" stroke="#d8d8d8" stroke-width="1.4" />
<line x1="45.50" y1="243.30" x2="339.20" y2="243.30" stroke="#d8d8d8" stroke-width="1.4" />
<text x="34.60" y="385.50" font-size="11" font-weight="bold" fill="#000" stroke="#000" stroke-width="0.4" text-anchor="end" >0</text>
<text x="34.60" y="368.26" font-size="11" font-weight="bold" fill="#000" stroke="#000" stroke-width="0.4" text-anchor="end" >10</text>
<text x="34.60" y="351.03" font-size="11" font-weight="bold" fill="#000" stroke="#000" stroke-width="0.4" text-anchor="end" >20</text>
<text x="34.60" y="333.79" font-size="11" font-weight="bold" fill="#000" stroke="#000" stroke-width="0.4" text-anchor="end" >30</text>
<text x="34.60" y="316.55" font-size="11" font-weight="bold" fill="#000" stroke="#000" stroke-width="0.4" text-anchor="end" >40</text>
<text x="34.60" y="299.31" font-size="11" font-weight="bold" fill="#000" stroke="#000" stroke-width="0.4" text-anchor="end" >50</text>
<text x="34.60" y="282.07" font-size="11" font-weight="bold" fill="#000" stroke="#000" stroke-width="0.4" text-anchor="end" >60</text>
<text x="34.60" y="264.84" font-size="11" font-weight="bold" fill="#000" stroke="#000" stroke-width="0.4" text-anchor="end" >70</text>
<text x="34.60" y="247.60" font-size="11" font-weight="bold" fill="#000" stroke="#000" stroke-width="0.4" text-anchor="end" >80</text>
<rect x="52.60" y="378.27" width="8.20" height="2.93" fill="#050505" />
<rect x="60.80" y="343.11" width="8.20" height="38.09" fill="#000" />
<path d="M61.90 347.11 L64.90 344.11 L67.90 347.11 L64.90 350.11 Z" fill="#a4a4a4"/>
<line x1="62.90" y1="347.11" x2="66.90" y2="347.11" stroke="#f2f2f2" stroke-width="1" />
<line x1="64.90" y1="345.11" x2="64.90" y2="349.11" stroke="#f2f2f2" stroke-width="1" />
<rect x="62.20" y="349.61" width="1.00" height="1.00" fill="#7a7a7a" />
<rect x="66.60" y="349.61" width="1.00" height="1.00" fill="#7a7a7a" />
<path d="M61.90 353.11 L64.90 350.11 L67.90 353.11 L64.90 356.11 Z" fill="#a4a4a4"/>
<rect x="64.30" y="352.51" width="1.20" height="1.20" fill="#e8e8e8" />
<rect x="62.20" y="355.61" width="1.00" height="1.00" fill="#7a7a7a" />
<rect x="66.60" y="355.61" width="1.00" height="1.00" fill="#7a7a7a" />
<path d="M61.90 359.11 L64.90 356.11 L67.90 359.11 L64.90 362.11 Z" fill="#a4a4a4"/>
<line x1="62.90" y1="359.11" x2="66.90" y2="359.11" stroke="#f2f2f2" stroke-width="1" />
<line x1="64.90" y1="357.11" x2="64.90" y2="361.11" stroke="#f2f2f2" stroke-width="1" />
<rect x="62.20" y="361.61" width="1.00" height="1.00" fill="#7a7a7a" />
<rect x="66.60" y="361.61" width="1.00" height="1.00" fill="#7a7a7a" />
<path d="M61.90 365.11 L64.90 362.11 L67.90 365.11 L64.90 368.11 Z" fill="#a4a4a4"/>
<rect x="64.30" y="364.51" width="1.20" height="1.20" fill="#e8e8e8" />
<rect x="62.20" y="367.61" width="1.00" height="1.00" fill="#7a7a7a" />
<rect x="66.60" y="367.61" width="1.00" height="1.00" fill="#7a7a7a" />
<path d="M61.90 371.11 L64.90 368.11 L67.90 371.11 L64.90 374.11 Z" fill="#a4a4a4"/>
<line x1="62.90" y1="371.11" x2="66.90" y2="371.11" stroke="#f2f2f2" stroke-width="1" />
<line x1="64.90" y1="369.11" x2="64.90" y2="373.11" stroke="#f2f2f2" stroke-width="1" />
<rect x="62.20" y="373.61" width="1.00" height="1.00" fill="#7a7a7a" />
<rect x="66.60" y="373.61" width="1.00" height="1.00" fill="#7a7a7a" />
<path d="M61.90 377.11 L64.90 374.11 L67.90 377.11 L64.90 380.11 Z" fill="#a4a4a4"/>
<rect x="64.30" y="376.51" width="1.20" height="1.20" fill="#e8e8e8" />
<rect x="62.20" y="379.61" width="1.00" height="1.00" fill="#7a7a7a" />
<rect x="66.60" y="379.61" width="1.00" height="1.00" fill="#7a7a7a" />
<text x="60.30" y="402.50" font-size="11" font-weight="bold" fill="#000" stroke="#000" stroke-width="0.4" text-anchor="middle" >1</text>
<rect x="81.86" y="378.96" width="8.20" height="2.24" fill="#000" />
<rect x="90.06" y="343.11" width="8.20" height="38.09" fill="#000" />
<path d="M91.16 347.11 L94.16 344.11 L97.16 347.11 L94.16 350.11 Z" fill="#a4a4a4"/>
<line x1="92.16" y1="347.11" x2="96.16" y2="347.11" stroke="#f2f2f2" stroke-width="1" />
<line x1="94.16" y1="345.11" x2="94.16" y2="349.11" stroke="#f2f2f2" stroke-width="1" />
<rect x="91.46" y="349.61" width="1.00" height="1.00" fill="#7a7a7a" />
<rect x="95.86" y="349.61" width="1.00" height="1.00" fill="#7a7a7a" />
<path d="M91.16 353.11 L94.16 350.11 L97.16 353.11 L94.16 356.11 Z" fill="#a4a4a4"/>
<rect x="93.56" y="352.51" width="1.20" height="1.20" fill="#e8e8e8" />
<rect x="91.46" y="355.61" width="1.00" height="1.00" fill="#7a7a7a" />
<rect x="95.86" y="355.61" width="1.00" height="1.00" fill="#7a7a7a" />
<path d="M91.16 359.11 L94.16 356.11 L97.16 359.11 L94.16 362.11 Z" fill="#a4a4a4"/>
<line x1="92.16" y1="359.11" x2="96.16" y2="359.11" stroke="#f2f2f2" stroke-width="1" />
<line x1="94.16" y1="357.11" x2="94.16" y2="361.11" stroke="#f2f2f2" stroke-width="1" />
<rect x="91.46" y="361.61" width="1.00" height="1.00" fill="#7a7a7a" />
<rect x="95.86" y="361.61" width="1.00" height="1.00" fill="#7a7a7a" />
<path d="M91.16 365.11 L94.16 362.11 L97.16 365.11 L94.16 368.11 Z" fill="#a4a4a4"/>
<rect x="93.56" y="364.51" width="1.20" height="1.20" fill="#e8e8e8" />
<rect x="91.46" y="367.61" width="1.00" height="1.00" fill="#7a7a7a" />
<rect x="95.86" y="367.61" width="1.00" height="1.00" fill="#7a7a7a" />
<path d="M91.16 371.11 L94.16 368.11 L97.16 371.11 L94.16 374.11 Z" fill="#a4a4a4"/>
<line x1="92.16" y1="371.11" x2="96.16" y2="371.11" stroke="#f2f2f2" stroke-width="1" />
<line x1="94.16" y1="369.11" x2="94.16" y2="373.11" stroke="#f2f2f2" stroke-width="1" />
<rect x="91.46" y="373.61" width="1.00" height="1.00" fill="#7a7a7a" />
<rect x="95.86" y="373.61" width="1.00" height="1.00" fill="#7a7a7a" />
<path d="M91.16 377.11 L94.16 374.11 L97.16 377.11 L94.16 380.11 Z" fill="#a4a4a4"/>
<rect x="93.56" y="376.51" width="1.20" height="1.20" fill="#e8e8e8" />
<rect x="91.46" y="379.61" width="1.00" height="1.00" fill="#7a7a7a" />
<rect x="95.86" y="379.61" width="1.00" height="1.00" fill="#7a7a7a" />
<text x="89.56" y="402.50" font-size="11" font-weight="bold" fill="#000" stroke="#000" stroke-width="0.4" text-anchor="middle" >2</text>
<rect x="111.12" y="378.44" width="8.20" height="2.76" fill="#050505" />
<rect x="119.32" y="305.01" width="8.20" height="76.19" fill="#000" />
<path d="M120.42 309.01 L123.42 306.01 L126.42 309.01 L123.42 312.01 Z" fill="#a4a4a4"/>
<line x1="121.42" y1="309.01" x2="125.42" y2="309.01" stroke="#f2f2f2" stroke-width="1" />
<line x1="123.42" y1="307.01" x2="123.42" y2="311.01" stroke="#f2f2f2" stroke-width="1" />
<rect x="120.72" y="311.51" width="1.00" height="1.00" fill="#7a7a7a" />
<rect x="125.12" y="311.51" width="1.00" height="1.00" fill="#7a7a7a" />
<path d="M120.42 315.01 L123.42 312.01 L126.42 315.01 L123.42 318.01 Z" fill="#a4a4a4"/>
<rect x="122.82" y="314.41" width="1.20" height="1.20" fill="#e8e8e8" />
<rect x="120.72" y="317.51" width="1.00" height="1.00" fill="#7a7a7a" />
<rect x="125.12" y="317.51" width="1.00" height="1.00" fill="#7a7a7a" />
<path d="M120.42 321.01 L123.42 318.01 L126.42 321.01 L123.42 324.01 Z" fill="#a4a4a4"/>
<line x1="121.42" y1="321.01" x2="125.42" y2="321.01" stroke="#f2f2f2" stroke-width="1" />
<line x1="123.42" y1="319.01" x2="123.42" y2="323.01" stroke="#f2f2f2" stroke-width="1" />
<rect x="120.72" y="323.51" width="1.00" height="1.00" fill="#7a7a7a" />
<rect x="125.12" y="323.51" width="1.00" height="1.00" fill="#7a7a7a" />
<path d="M120.42 327.01 L123.42 324.01 L126.42 327.01 L123.42 330.01 Z" fill="#a4a4a4"/>
<rect x="122.82" y="326.41" width="1.20" height="1.20" fill="#e8e8e8" />
<rect x="120.72" y="329.51" width="1.00" height="1.00" fill="#7a7a7a" />
<rect x="125.12" y="329.51" width="1.00" height="1.00" fill="#7a7a7a" />
<path d="M120.42 333.01 L123.42 330.01 L126.42 333.01 L123.42 336.01 Z" fill="#a4a4a4"/>
<line x1="121.42" y1="333.01" x2="125.42" y2="333.01" stroke="#f2f2f2" stroke-width="1" />
<line x1="123.42" y1="331.01" x2="123.42" y2="335.01" stroke="#f2f2f2" stroke-width="1" />
<rect x="120.72" y="335.51" width="1.00" height="1.00" fill="#7a7a7a" />
<rect x="125.12" y="335.51" width="1.00" height="1.00" fill="#7a7a7a" />
<path d="M120.42 339.01 L123.42 336.01 L126.42 339.01 L123.42 342.01 Z" fill="#a4a4a4"/>
<rect x="122.82" y="338.41" width="1.20" height="1.20" fill="#e8e8e8" />
<rect x="120.72" y="341.51" width="1.00" height="1.00" fill="#7a7a7a" />
<rect x="125.12" y="341.51" width="1.00" height="1.00" fill="#7a7a7a" />
<path d="M120.42 345.01 L123.42 342.01 L126.42 345.01 L123.42 348.01 Z" fill="#a4a4a4"/>
<line x1="121.42" y1="345.01" x2="125.42" y2="345.01" stroke="#f2f2f2" stroke-width="1" />
<line x1="123.42" y1="343.01" x2="123.42" y2="347.01" stroke="#f2f2f2" stroke-width="1" />
<rect x="120.72" y="347.51" width="1.00" height="1.00" fill="#7a7a7a" />
<rect x="125.12" y="347.51" width="1.00" height="1.00" fill="#7a7a7a" />
<path d="M120.42 351.01 L123.42 348.01 L126.42 351.01 L123.42 354.01 Z" fill="#a4a4a4"/>
<rect x="122.82" y="350.41" width="1.20" height="1.20" fill="#e8e8e8" />
<rect x="120.72" y="353.51" width="1.00" height="1.00" fill="#7a7a7a" />
<rect x="125.12" y="353.51" width="1.00" height="1.00" fill="#7a7a7a" />
<path d="M120.42 357.01 L123.42 354.01 L126.42 357.01 L123.42 360.01 Z" fill="#a4a4a4"/>
<line x1="121.42" y1="357.01" x2="125.42" y2="357.01" stroke="#f2f2f2" stroke-width="1" />
<line x1="123.42" y1="355.01" x2="123.42" y2="359.01" stroke="#f2f2f2" stroke-width="1" />
<rect x="120.72" y="359.51" width="1.00" height="1.00" fill="#7a7a7a" />
<rect x="125.12" y="359.51" width="1.00" height="1.00" fill="#7a7a7a" />
<path d="M120.42 363.01 L123.42 360.01 L126.42 363.01 L123.42 366.01 Z" fill="#a4a4a4"/>
<rect x="122.82" y="362.41" width="1.20" height="1.20" fill="#e8e8e8" />
<rect x="120.72" y="365.51" width="1.00" height="1.00" fill="#7a7a7a" />
<rect x="125.12" y="365.51" width="1.00" height="1.00" fill="#7a7a7a" />
<path d="M120.42 369.01 L123.42 366.01 L126.42 369.01 L123.42 372.01 Z" fill="#a4a4a4"/>
<line x1="121.42" y1="369.01" x2="125.42" y2="369.01" stroke="#f2f2f2" stroke-width="1" />
<line x1="123.42" y1="367.01" x2="123.42" y2="371.01" stroke="#f2f2f2" stroke-width="1" />
<rect x="120.72" y="371.51" width="1.00" height="1.00" fill="#7a7a7a" />
<rect x="125.12" y="371.51" width="1.00" height="1.00" fill="#7a7a7a" />
<path d="M120.42 375.01 L123.42 372.01 L126.42 375.01 L123.42 378.01 Z" fill="#a4a4a4"/>
<rect x="122.82" y="374.41" width="1.20" height="1.20" fill="#e8e8e8" />
<rect x="120.72" y="377.51" width="1.00" height="1.00" fill="#7a7a7a" />
<rect x="125.12" y="377.51" width="1.00" height="1.00" fill="#7a7a7a" />
<text x="118.82" y="402.50" font-size="11" font-weight="bold" fill="#000" stroke="#000" stroke-width="0.4" text-anchor="middle" >3</text>
<rect x="140.38" y="364.82" width="8.20" height="16.38" fill="#050505" />
<rect x="143.98" y="367.32" width="1.00" height="1.00" fill="#8a8a8a" />
<rect x="143.98" y="372.32" width="1.00" height="1.00" fill="#8a8a8a" />
<rect x="143.98" y="377.32" width="1.00" height="1.00" fill="#8a8a8a" />
<rect x="148.58" y="303.46" width="8.20" height="77.74" fill="#000" />
<path d="M149.68 307.46 L152.68 304.46 L155.68 307.46 L152.68 310.46 Z" fill="#a4a4a4"/>
<line x1="150.68" y1="307.46" x2="154.68" y2="307.46" stroke="#f2f2f2" stroke-width="1" />
<line x1="152.68" y1="305.46" x2="152.68" y2="309.46" stroke="#f2f2f2" stroke-width="1" />
<rect x="149.98" y="309.96" width="1.00" height="1.00" fill="#7a7a7a" />
<rect x="154.38" y="309.96" width="1.00" height="1.00" fill="#7a7a7a" />
<path d="M149.68 313.46 L152.68 310.46 L155.68 313.46 L152.68 316.46 Z" fill="#a4a4a4"/>
<rect x="152.08" y="312.86" width="1.20" height="1.20" fill="#e8e8e8" />
<rect x="149.98" y="315.96" width="1.00" height="1.00" fill="#7a7a7a" />
<rect x="154.38" y="315.96" width="1.00" height="1.00" fill="#7a7a7a" />
<path d="M149.68 319.46 L152.68 316.46 L155.68 319.46 L152.68 322.46 Z" fill="#a4a4a4"/>
<line x1="150.68" y1="319.46" x2="154.68" y2="319.46" stroke="#f2f2f2" stroke-width="1" />
<line x1="152.68" y1="317.46" x2="152.68" y2="321.46" stroke="#f2f2f2" stroke-width="1" />
<rect x="149.98" y="321.96" width="1.00" height="1.00" fill="#7a7a7a" />
<rect x="154.38" y="321.96" width="1.00" height="1.00" fill="#7a7a7a" />
<path d="M149.68 325.46 L152.68 322.46 L155.68 325.46 L152.68 328.46 Z" fill="#a4a4a4"/>
<rect x="152.08" y="324.86" width="1.20" height="1.20" fill="#e8e8e8" />
<rect x="149.98" y="327.96" width="1.00" height="1.00" fill="#7a7a7a" />
<rect x="154.38" y="327.96" width="1.00" height="1.00" fill="#7a7a7a" />
<path d="M149.68 331.46 L152.68 328.46 L155.68 331.46 L152.68 334.46 Z" fill="#a4a4a4"/>
<line x1="150.68" y1="331.46" x2="154.68" y2="331.46" stroke="#f2f2f2" stroke-width="1" />
<line x1="152.68" y1="329.46" x2="152.68" y2="333.46" stroke="#f2f2f2" stroke-width="1" />
<rect x="149.98" y="333.96" width="1.00" height="1.00" fill="#7a7a7a" />
<rect x="154.38" y="333.96" width="1.00" height="1.00" fill="#7a7a7a" />
<path d="M149.68 337.46 L152.68 334.46 L155.68 337.46 L152.68 340.46 Z" fill="#a4a4a4"/>
<rect x="152.08" y="336.86" width="1.20" height="1.20" fill="#e8e8e8" />
<rect x="149.98" y="339.96" width="1.00" height="1.00" fill="#7a7a7a" />
<rect x="154.38" y="339.96" width="1.00" height="1.00" fill="#7a7a7a" />
<path d="M149.68 343.46 L152.68 340.46 L155.68 343.46 L152.68 346.46 Z" fill="#a4a4a4"/>
<line x1="150.68" y1="343.46" x2="154.68" y2="343.46" stroke="#f2f2f2" stroke-width="1" />
<line x1="152.68" y1="341.46" x2="152.68" y2="345.46" stroke="#f2f2f2" stroke-width="1" />
<rect x="149.98" y="345.96" width="1.00" height="1.00" fill="#7a7a7a" />
<rect x="154.38" y="345.96" width="1.00" height="1.00" fill="#7a7a7a" />
<path d="M149.68 349.46 L152.68 346.46 L155.68 349.46 L152.68 352.46 Z" fill="#a4a4a4"/>
<rect x="152.08" y="348.86" width="1.20" height="1.20" fill="#e8e8e8" />
<rect x="149.98" y="351.96" width="1.00" height="1.00" fill="#7a7a7a" />
<rect x="154.38" y="351.96" width="1.00" height="1.00" fill="#7a7a7a" />
<path d="M149.68 355.46 L152.68 352.46 L155.68 355.46 L152.68 358.46 Z" fill="#a4a4a4"/>
<line x1="150.68" y1="355.46" x2="154.68" y2="355.46" stroke="#f2f2f2" stroke-width="1" />
<line x1="152.68" y1="353.46" x2="152.68" y2="357.46" stroke="#f2f2f2" stroke-width="1" />
<rect x="149.98" y="357.96" width="1.00" height="1.00" fill="#7a7a7a" />
<rect x="154.38" y="357.96" width="1.00" height="1.00" fill="#7a7a7a" />
<path d="M149.68 361.46 L152.68 358.46 L155.68 361.46 L152.68 364.46 Z" fill="#a4a4a4"/>
<rect x="152.08" y="360.86" width="1.20" height="1.20" fill="#e8e8e8" />
<rect x="149.98" y="363.96" width="1.00" height="1.00" fill="#7a7a7a" />
<rect x="154.38" y="363.96" width="1.00" height="1.00" fill="#7a7a7a" />
<path d="M149.68 367.46 L152.68 364.46 L155.68 367.46 L152.68 370.46 Z" fill="#a4a4a4"/>
<line x1="150.68" y1="367.46" x2="154.68" y2="367.46" stroke="#f2f2f2" stroke-width="1" />
<line x1="152.68" y1="365.46" x2="152.68" y2="369.46" stroke="#f2f2f2" stroke-width="1" />
<rect x="149.98" y="369.96" width="1.00" height="1.00" fill="#7a7a7a" />
<rect x="154.38" y="369.96" width="1.00" height="1.00" fill="#7a7a7a" />
<path d="M149.68 373.46 L152.68 370.46 L155.68 373.46 L152.68 376.46 Z" fill="#a4a4a4"/>
<rect x="152.08" y="372.86" width="1.20" height="1.20" fill="#e8e8e8" />
<rect x="149.98" y="375.96" width="1.00" height="1.00" fill="#7a7a7a" />
<rect x="154.38" y="375.96" width="1.00" height="1.00" fill="#7a7a7a" />
<text x="148.08" y="402.50" font-size="11" font-weight="bold" fill="#000" stroke="#000" stroke-width="0.4" text-anchor="middle" >4</text>
<rect x="169.64" y="375.86" width="8.20" height="5.34" fill="#050505" />
<rect x="173.24" y="378.36" width="1.00" height="1.00" fill="#8a8a8a" />
<rect x="177.84" y="337.07" width="8.20" height="44.13" fill="#000" />
<path d="M178.94 341.07 L181.94 338.07 L184.94 341.07 L181.94 344.07 Z" fill="#a4a4a4"/>
<line x1="179.94" y1="341.07" x2="183.94" y2="341.07" stroke="#f2f2f2" stroke-width="1" />
<line x1="181.94" y1="339.07" x2="181.94" y2="343.07" stroke="#f2f2f2" stroke-width="1" />
<rect x="179.24" y="343.57" width="1.00" height="1.00" fill="#7a7a7a" />
<rect x="183.64" y="343.57" width="1.00" height="1.00" fill="#7a7a7a" />
<path d="M178.94 347.07 L181.94 344.07 L184.94 347.07 L181.94 350.07 Z" fill="#a4a4a4"/>
<rect x="181.34" y="346.47" width="1.20" height="1.20" fill="#e8e8e8" />
<rect x="179.24" y="349.57" width="1.00" height="1.00" fill="#7a7a7a" />
<rect x="183.64" y="349.57" width="1.00" height="1.00" fill="#7a7a7a" />
<path d="M178.94 353.07 L181.94 350.07 L184.94 353.07 L181.94 356.07 Z" fill="#a4a4a4"/>
<line x1="179.94" y1="353.07" x2="183.94" y2="353.07" stroke="#f2f2f2" stroke-width="1" />
<line x1="181.94" y1="351.07" x2="181.94" y2="355.07" stroke="#f2f2f2" stroke-width="1" />
<rect x="179.24" y="355.57" width="1.00" height="1.00" fill="#7a7a7a" />
<rect x="183.64" y="355.57" width="1.00" height="1.00" fill="#7a7a7a" />
<path d="M178.94 359.07 L181.94 356.07 L184.94 359.07 L181.94 362.07 Z" fill="#a4a4a4"/>
<rect x="181.34" y="358.47" width="1.20" height="1.20" fill="#e8e8e8" />
<rect x="179.24" y="361.57" width="1.00" height="1.00" fill="#7a7a7a" />
<rect x="183.64" y="361.57" width="1.00" height="1.00" fill="#7a7a7a" />
<path d="M178.94 365.07 L181.94 362.07 L184.94 365.07 L181.94 368.07 Z" fill="#a4a4a4"/>
<line x1="179.94" y1="365.07" x2="183.94" y2="365.07" stroke="#f2f2f2" stroke-width="1" />
<line x1="181.94" y1="363.07" x2="181.94" y2="367.07" stroke="#f2f2f2" stroke-width="1" />
<rect x="179.24" y="367.57" width="1.00" height="1.00" fill="#7a7a7a" />
<rect x="183.64" y="367.57" width="1.00" height="1.00" fill="#7a7a7a" />
<path d="M178.94 371.07 L181.94 368.07 L184.94 371.07 L181.94 374.07 Z" fill="#a4a4a4"/>
<rect x="181.34" y="370.47" width="1.20" height="1.20" fill="#e8e8e8" />
<rect x="179.24" y="373.57" width="1.00" height="1.00" fill="#7a7a7a" />
<rect x="183.64" y="373.57" width="1.00" height="1.00" fill="#7a7a7a" />
<path d="M178.94 377.07 L181.94 374.07 L184.94 377.07 L181.94 380.07 Z" fill="#a4a4a4"/>
<line x1="179.94" y1="377.07" x2="183.94" y2="377.07" stroke="#f2f2f2" stroke-width="1" />
<line x1="181.94" y1="375.07" x2="181.94" y2="379.07" stroke="#f2f2f2" stroke-width="1" />
<rect x="179.24" y="379.57" width="1.00" height="1.00" fill="#7a7a7a" />
<rect x="183.64" y="379.57" width="1.00" height="1.00" fill="#7a7a7a" />
<text x="177.34" y="402.50" font-size="11" font-weight="bold" fill="#000" stroke="#000" stroke-width="0.4" text-anchor="middle" >5</text>
<rect x="198.90" y="375.86" width="8.20" height="5.34" fill="#050505" />
<rect x="202.50" y="378.36" width="1.00" height="1.00" fill="#8a8a8a" />
<rect x="207.10" y="278.81" width="8.20" height="102.39" fill="#000" />
<path d="M208.20 282.81 L211.20 279.81 L214.20 282.81 L211.20 285.81 Z" fill="#a4a4a4"/>
<line x1="209.20" y1="282.81" x2="213.20" y2="282.81" stroke="#f2f2f2" stroke-width="1" />
<line x1="211.20" y1="280.81" x2="211.20" y2="284.81" stroke="#f2f2f2" stroke-width="1" />
<rect x="208.50" y="285.31" width="1.00" height="1.00" fill="#7a7a7a" />
<rect x="212.90" y="285.31" width="1.00" height="1.00" fill="#7a7a7a" />
<path d="M208.20 288.81 L211.20 285.81 L214.20 288.81 L211.20 291.81 Z" fill="#a4a4a4"/>
<rect x="210.60" y="288.21" width="1.20" height="1.20" fill="#e8e8e8" />
<rect x="208.50" y="291.31" width="1.00" height="1.00" fill="#7a7a7a" />
<rect x="212.90" y="291.31" width="1.00" height="1.00" fill="#7a7a7a" />
<path d="M208.20 294.81 L211.20 291.81 L214.20 294.81 L211.20 297.81 Z" fill="#a4a4a4"/>
<line x1="209.20" y1="294.81" x2="213.20" y2="294.81" stroke="#f2f2f2" stroke-width="1" />
<line x1="211.20" y1="292.81" x2="211.20" y2="296.81" stroke="#f2f2f2" stroke-width="1" />
<rect x="208.50" y="297.31" width="1.00" height="1.00" fill="#7a7a7a" />
<rect x="212.90" y="297.31" width="1.00" height="1.00" fill="#7a7a7a" />
<path d="M208.20 300.81 L211.20 297.81 L214.20 300.81 L211.20 303.81 Z" fill="#a4a4a4"/>
<rect x="210.60" y="300.21" width="1.20" height="1.20" fill="#e8e8e8" />
<rect x="208.50" y="303.31" width="1.00" height="1.00" fill="#7a7a7a" />
<rect x="212.90" y="303.31" width="1.00" height="1.00" fill="#7a7a7a" />
<path d="M208.20 306.81 L211.20 303.81 L214.20 306.81 L211.20 309.81 Z" fill="#a4a4a4"/>
<line x1="209.20" y1="306.81" x2="213.20" y2="306.81" stroke="#f2f2f2" stroke-width="1" />
<line x1="211.20" y1="304.81" x2="211.20" y2="308.81" stroke="#f2f2f2" stroke-width="1" />
<rect x="208.50" y="309.31" width="1.00" height="1.00" fill="#7a7a7a" />
<rect x="212.90" y="309.31" width="1.00" height="1.00" fill="#7a7a7a" />
<path d="M208.20 312.81 L211.20 309.81 L214.20 312.81 L211.20 315.81 Z" fill="#a4a4a4"/>
<rect x="210.60" y="312.21" width="1.20" height="1.20" fill="#e8e8e8" />
<rect x="208.50" y="315.31" width="1.00" height="1.00" fill="#7a7a7a" />
<rect x="212.90" y="315.31" width="1.00" height="1.00" fill="#7a7a7a" />
<path d="M208.20 318.81 L211.20 315.81 L214.20 318.81 L211.20 321.81 Z" fill="#a4a4a4"/>
<line x1="209.20" y1="318.81" x2="213.20" y2="318.81" stroke="#f2f2f2" stroke-width="1" />
<line x1="211.20" y1="316.81" x2="211.20" y2="320.81" stroke="#f2f2f2" stroke-width="1" />
<rect x="208.50" y="321.31" width="1.00" height="1.00" fill="#7a7a7a" />
<rect x="212.90" y="321.31" width="1.00" height="1.00" fill="#7a7a7a" />
<path d="M208.20 324.81 L211.20 321.81 L214.20 324.81 L211.20 327.81 Z" fill="#a4a4a4"/>
<rect x="210.60" y="324.21" width="1.20" height="1.20" fill="#e8e8e8" />
<rect x="208.50" y="327.31" width="1.00" height="1.00" fill="#7a7a7a" />
<rect x="212.90" y="327.31" width="1.00" height="1.00" fill="#7a7a7a" />
<path d="M208.20 330.81 L211.20 327.81 L214.20 330.81 L211.20 333.81 Z" fill="#a4a4a4"/>
<line x1="209.20" y1="330.81" x2="213.20" y2="330.81" stroke="#f2f2f2" stroke-width="1" />
<line x1="211.20" y1="328.81" x2="211.20" y2="332.81" stroke="#f2f2f2" stroke-width="1" />
<rect x="208.50" y="333.31" width="1.00" height="1.00" fill="#7a7a7a" />
<rect x="212.90" y="333.31" width="1.00" height="1.00" fill="#7a7a7a" />
<path d="M208.20 336.81 L211.20 333.81 L214.20 336.81 L211.20 339.81 Z" fill="#a4a4a4"/>
<rect x="210.60" y="336.21" width="1.20" height="1.20" fill="#e8e8e8" />
<rect x="208.50" y="339.31" width="1.00" height="1.00" fill="#7a7a7a" />
<rect x="212.90" y="339.31" width="1.00" height="1.00" fill="#7a7a7a" />
<path d="M208.20 342.81 L211.20 339.81 L214.20 342.81 L211.20 345.81 Z" fill="#a4a4a4"/>
<line x1="209.20" y1="342.81" x2="213.20" y2="342.81" stroke="#f2f2f2" stroke-width="1" />
<line x1="211.20" y1="340.81" x2="211.20" y2="344.81" stroke="#f2f2f2" stroke-width="1" />
<rect x="208.50" y="345.31" width="1.00" height="1.00" fill="#7a7a7a" />
<rect x="212.90" y="345.31" width="1.00" height="1.00" fill="#7a7a7a" />
<path d="M208.20 348.81 L211.20 345.81 L214.20 348.81 L211.20 351.81 Z" fill="#a4a4a4"/>
<rect x="210.60" y="348.21" width="1.20" height="1.20" fill="#e8e8e8" />
<rect x="208.50" y="351.31" width="1.00" height="1.00" fill="#7a7a7a" />
<rect x="212.90" y="351.31" width="1.00" height="1.00" fill="#7a7a7a" />
<path d="M208.20 354.81 L211.20 351.81 L214.20 354.81 L211.20 357.81 Z" fill="#a4a4a4"/>
<line x1="209.20" y1="354.81" x2="213.20" y2="354.81" stroke="#f2f2f2" stroke-width="1" />
<line x1="211.20" y1="352.81" x2="211.20" y2="356.81" stroke="#f2f2f2" stroke-width="1" />
<rect x="208.50" y="357.31" width="1.00" height="1.00" fill="#7a7a7a" />
<rect x="212.90" y="357.31" width="1.00" height="1.00" fill="#7a7a7a" />
<path d="M208.20 360.81 L211.20 357.81 L214.20 360.81 L211.20 363.81 Z" fill="#a4a4a4"/>
<rect x="210.60" y="360.21" width="1.20" height="1.20" fill="#e8e8e8" />
<rect x="208.50" y="363.31" width="1.00" height="1.00" fill="#7a7a7a" />
<rect x="212.90" y="363.31" width="1.00" height="1.00" fill="#7a7a7a" />
<path d="M208.20 366.81 L211.20 363.81 L214.20 366.81 L211.20 369.81 Z" fill="#a4a4a4"/>
<line x1="209.20" y1="366.81" x2="213.20" y2="366.81" stroke="#f2f2f2" stroke-width="1" />
<line x1="211.20" y1="364.81" x2="211.20" y2="368.81" stroke="#f2f2f2" stroke-width="1" />
<rect x="208.50" y="369.31" width="1.00" height="1.00" fill="#7a7a7a" />
<rect x="212.90" y="369.31" width="1.00" height="1.00" fill="#7a7a7a" />
<path d="M208.20 372.81 L211.20 369.81 L214.20 372.81 L211.20 375.81 Z" fill="#a4a4a4"/>
<rect x="210.60" y="372.21" width="1.20" height="1.20" fill="#e8e8e8" />
<rect x="208.50" y="375.31" width="1.00" height="1.00" fill="#7a7a7a" />
<rect x="212.90" y="375.31" width="1.00" height="1.00" fill="#7a7a7a" />
<text x="206.60" y="402.50" font-size="11" font-weight="bold" fill="#000" stroke="#000" stroke-width="0.4" text-anchor="middle" >6</text>
<rect x="228.16" y="378.27" width="8.20" height="2.93" fill="#050505" />
<rect x="236.36" y="338.11" width="8.20" height="43.09" fill="#000" />
<path d="M237.46 342.11 L240.46 339.11 L243.46 342.11 L240.46 345.11 Z" fill="#a4a4a4"/>
<line x1="238.46" y1="342.11" x2="242.46" y2="342.11" stroke="#f2f2f2" stroke-width="1" />
<line x1="240.46" y1="340.11" x2="240.46" y2="344.11" stroke="#f2f2f2" stroke-width="1" />
<rect x="237.76" y="344.61" width="1.00" height="1.00" fill="#7a7a7a" />
<rect x="242.16" y="344.61" width="1.00" height="1.00" fill="#7a7a7a" />
<path d="M237.46 348.11 L240.46 345.11 L243.46 348.11 L240.46 351.11 Z" fill="#a4a4a4"/>
<rect x="239.86" y="347.51" width="1.20" height="1.20" fill="#e8e8e8" />
<rect x="237.76" y="350.61" width="1.00" height="1.00" fill="#7a7a7a" />
<rect x="242.16" y="350.61" width="1.00" height="1.00" fill="#7a7a7a" />
<path d="M237.46 354.11 L240.46 351.11 L243.46 354.11 L240.46 357.11 Z" fill="#a4a4a4"/>
<line x1="238.46" y1="354.11" x2="242.46" y2="354.11" stroke="#f2f2f2" stroke-width="1" />
<line x1="240.46" y1="352.11" x2="240.46" y2="356.11" stroke="#f2f2f2" stroke-width="1" />
<rect x="237.76" y="356.61" width="1.00" height="1.00" fill="#7a7a7a" />
<rect x="242.16" y="356.61" width="1.00" height="1.00" fill="#7a7a7a" />
<path d="M237.46 360.11 L240.46 357.11 L243.46 360.11 L240.46 363.11 Z" fill="#a4a4a4"/>
<rect x="239.86" y="359.51" width="1.20" height="1.20" fill="#e8e8e8" />
<rect x="237.76" y="362.61" width="1.00" height="1.00" fill="#7a7a7a" />
<rect x="242.16" y="362.61" width="1.00" height="1.00" fill="#7a7a7a" />
<path d="M237.46 366.11 L240.46 363.11 L243.46 366.11 L240.46 369.11 Z" fill="#a4a4a4"/>
<line x1="238.46" y1="366.11" x2="242.46" y2="366.11" stroke="#f2f2f2" stroke-width="1" />
<line x1="240.46" y1="364.11" x2="240.46" y2="368.11" stroke="#f2f2f2" stroke-width="1" />
<rect x="237.76" y="368.61" width="1.00" height="1.00" fill="#7a7a7a" />
<rect x="242.16" y="368.61" width="1.00" height="1.00" fill="#7a7a7a" />
<path d="M237.46 372.11 L240.46 369.11 L243.46 372.11 L240.46 375.11 Z" fill="#a4a4a4"/>
<rect x="239.86" y="371.51" width="1.20" height="1.20" fill="#e8e8e8" />
<rect x="237.76" y="374.61" width="1.00" height="1.00" fill="#7a7a7a" />
<rect x="242.16" y="374.61" width="1.00" height="1.00" fill="#7a7a7a" />
<text x="235.86" y="402.50" font-size="11" font-weight="bold" fill="#000" stroke="#000" stroke-width="0.4" text-anchor="middle" >7</text>
<rect x="257.42" y="371.89" width="8.20" height="9.31" fill="#050505" />
<rect x="261.02" y="374.39" width="1.00" height="1.00" fill="#8a8a8a" />
<rect x="265.62" y="297.25" width="8.20" height="83.95" fill="#000" />
<path d="M266.72 301.25 L269.72 298.25 L272.72 301.25 L269.72 304.25 Z" fill="#a4a4a4"/>
<line x1="267.72" y1="301.25" x2="271.72" y2="301.25" stroke="#f2f2f2" stroke-width="1" />
<line x1="269.72" y1="299.25" x2="269.72" y2="303.25" stroke="#f2f2f2" stroke-width="1" />
<rect x="267.02" y="303.75" width="1.00" height="1.00" fill="#7a7a7a" />
<rect x="271.42" y="303.75" width="1.00" height="1.00" fill="#7a7a7a" />
<path d="M266.72 307.25 L269.72 304.25 L272.72 307.25 L269.72 310.25 Z" fill="#a4a4a4"/>
<rect x="269.12" y="306.65" width="1.20" height="1.20" fill="#e8e8e8" />
<rect x="267.02" y="309.75" width="1.00" height="1.00" fill="#7a7a7a" />
<rect x="271.42" y="309.75" width="1.00" height="1.00" fill="#7a7a7a" />
<path d="M266.72 313.25 L269.72 310.25 L272.72 313.25 L269.72 316.25 Z" fill="#a4a4a4"/>
<line x1="267.72" y1="313.25" x2="271.72" y2="313.25" stroke="#f2f2f2" stroke-width="1" />
<line x1="269.72" y1="311.25" x2="269.72" y2="315.25" stroke="#f2f2f2" stroke-width="1" />
<rect x="267.02" y="315.75" width="1.00" height="1.00" fill="#7a7a7a" />
<rect x="271.42" y="315.75" width="1.00" height="1.00" fill="#7a7a7a" />
<path d="M266.72 319.25 L269.72 316.25 L272.72 319.25 L269.72 322.25 Z" fill="#a4a4a4"/>
<rect x="269.12" y="318.65" width="1.20" height="1.20" fill="#e8e8e8" />
<rect x="267.02" y="321.75" width="1.00" height="1.00" fill="#7a7a7a" />
<rect x="271.42" y="321.75" width="1.00" height="1.00" fill="#7a7a7a" />
<path d="M266.72 325.25 L269.72 322.25 L272.72 325.25 L269.72 328.25 Z" fill="#a4a4a4"/>
<line x1="267.72" y1="325.25" x2="271.72" y2="325.25" stroke="#f2f2f2" stroke-width="1" />
<line x1="269.72" y1="323.25" x2="269.72" y2="327.25" stroke="#f2f2f2" stroke-width="1" />
<rect x="267.02" y="327.75" width="1.00" height="1.00" fill="#7a7a7a" />
<rect x="271.42" y="327.75" width="1.00" height="1.00" fill="#7a7a7a" />
<path d="M266.72 331.25 L269.72 328.25 L272.72 331.25 L269.72 334.25 Z" fill="#a4a4a4"/>
<rect x="269.12" y="330.65" width="1.20" height="1.20" fill="#e8e8e8" />
<rect x="267.02" y="333.75" width="1.00" height="1.00" fill="#7a7a7a" />
<rect x="271.42" y="333.75" width="1.00" height="1.00" fill="#7a7a7a" />
<path d="M266.72 337.25 L269.72 334.25 L272.72 337.25 L269.72 340.25 Z" fill="#a4a4a4"/>
<line x1="267.72" y1="337.25" x2="271.72" y2="337.25" stroke="#f2f2f2" stroke-width="1" />
<line x1="269.72" y1="335.25" x2="269.72" y2="339.25" stroke="#f2f2f2" stroke-width="1" />
<rect x="267.02" y="339.75" width="1.00" height="1.00" fill="#7a7a7a" />
<rect x="271.42" y="339.75" width="1.00" height="1.00" fill="#7a7a7a" />
<path d="M266.72 343.25 L269.72 340.25 L272.72 343.25 L269.72 346.25 Z" fill="#a4a4a4"/>
<rect x="269.12" y="342.65" width="1.20" height="1.20" fill="#e8e8e8" />
<rect x="267.02" y="345.75" width="1.00" height="1.00" fill="#7a7a7a" />
<rect x="271.42" y="345.75" width="1.00" height="1.00" fill="#7a7a7a" />
<path d="M266.72 349.25 L269.72 346.25 L272.72 349.25 L269.72 352.25 Z" fill="#a4a4a4"/>
<line x1="267.72" y1="349.25" x2="271.72" y2="349.25" stroke="#f2f2f2" stroke-width="1" />
<line x1="269.72" y1="347.25" x2="269.72" y2="351.25" stroke="#f2f2f2" stroke-width="1" />
<rect x="267.02" y="351.75" width="1.00" height="1.00" fill="#7a7a7a" />
<rect x="271.42" y="351.75" width="1.00" height="1.00" fill="#7a7a7a" />
<path d="M266.72 355.25 L269.72 352.25 L272.72 355.25 L269.72 358.25 Z" fill="#a4a4a4"/>
<rect x="269.12" y="354.65" width="1.20" height="1.20" fill="#e8e8e8" />
<rect x="267.02" y="357.75" width="1.00" height="1.00" fill="#7a7a7a" />
<rect x="271.42" y="357.75" width="1.00" height="1.00" fill="#7a7a7a" />
<path d="M266.72 361.25 L269.72 358.25 L272.72 361.25 L269.72 364.25 Z" fill="#a4a4a4"/>
<line x1="267.72" y1="361.25" x2="271.72" y2="361.25" stroke="#f2f2f2" stroke-width="1" />
<line x1="269.72" y1="359.25" x2="269.72" y2="363.25" stroke="#f2f2f2" stroke-width="1" />
<rect x="267.02" y="363.75" width="1.00" height="1.00" fill="#7a7a7a" />
<rect x="271.42" y="363.75" width="1.00" height="1.00" fill="#7a7a7a" />
<path d="M266.72 367.25 L269.72 364.25 L272.72 367.25 L269.72 370.25 Z" fill="#a4a4a4"/>
<rect x="269.12" y="366.65" width="1.20" height="1.20" fill="#e8e8e8" />
<rect x="267.02" y="369.75" width="1.00" height="1.00" fill="#7a7a7a" />
<rect x="271.42" y="369.75" width="1.00" height="1.00" fill="#7a7a7a" />
<path d="M266.72 373.25 L269.72 370.25 L272.72 373.25 L269.72 376.25 Z" fill="#a4a4a4"/>
<line x1="267.72" y1="373.25" x2="271.72" y2="373.25" stroke="#f2f2f2" stroke-width="1" />
<line x1="269.72" y1="371.25" x2="269.72" y2="375.25" stroke="#f2f2f2" stroke-width="1" />
<rect x="267.02" y="375.75" width="1.00" height="1.00" fill="#7a7a7a" />
<rect x="271.42" y="375.75" width="1.00" height="1.00" fill="#7a7a7a" />
<text x="265.12" y="402.50" font-size="11" font-weight="bold" fill="#000" stroke="#000" stroke-width="0.4" text-anchor="middle" >8</text>
<rect x="286.68" y="371.89" width="8.20" height="9.31" fill="#050505" />
<rect x="290.28" y="374.39" width="1.00" height="1.00" fill="#8a8a8a" />
<rect x="294.88" y="299.49" width="8.20" height="81.71" fill="#000" />
<path d="M295.98 303.49 L298.98 300.49 L301.98 303.49 L298.98 306.49 Z" fill="#a4a4a4"/>
<line x1="296.98" y1="303.49" x2="300.98" y2="303.49" stroke="#f2f2f2" stroke-width="1" />
<line x1="298.98" y1="301.49" x2="298.98" y2="305.49" stroke="#f2f2f2" stroke-width="1" />
<rect x="296.28" y="305.99" width="1.00" height="1.00" fill="#7a7a7a" />
<rect x="300.68" y="305.99" width="1.00" height="1.00" fill="#7a7a7a" />
<path d="M295.98 309.49 L298.98 306.49 L301.98 309.49 L298.98 312.49 Z" fill="#a4a4a4"/>
<rect x="298.38" y="308.89" width="1.20" height="1.20" fill="#e8e8e8" />
<rect x="296.28" y="311.99" width="1.00" height="1.00" fill="#7a7a7a" />
<rect x="300.68" y="311.99" width="1.00" height="1.00" fill="#7a7a7a" />
<path d="M295.98 315.49 L298.98 312.49 L301.98 315.49 L298.98 318.49 Z" fill="#a4a4a4"/>
<line x1="296.98" y1="315.49" x2="300.98" y2="315.49" stroke="#f2f2f2" stroke-width="1" />
<line x1="298.98" y1="313.49" x2="298.98" y2="317.49" stroke="#f2f2f2" stroke-width="1" />
<rect x="296.28" y="317.99" width="1.00" height="1.00" fill="#7a7a7a" />
<rect x="300.68" y="317.99" width="1.00" height="1.00" fill="#7a7a7a" />
<path d="M295.98 321.49 L298.98 318.49 L301.98 321.49 L298.98 324.49 Z" fill="#a4a4a4"/>
<rect x="298.38" y="320.89" width="1.20" height="1.20" fill="#e8e8e8" />
<rect x="296.28" y="323.99" width="1.00" height="1.00" fill="#7a7a7a" />
<rect x="300.68" y="323.99" width="1.00" height="1.00" fill="#7a7a7a" />
<path d="M295.98 327.49 L298.98 324.49 L301.98 327.49 L298.98 330.49 Z" fill="#a4a4a4"/>
<line x1="296.98" y1="327.49" x2="300.98" y2="327.49" stroke="#f2f2f2" stroke-width="1" />
<line x1="298.98" y1="325.49" x2="298.98" y2="329.49" stroke="#f2f2f2" stroke-width="1" />
<rect x="296.28" y="329.99" width="1.00" height="1.00" fill="#7a7a7a" />
<rect x="300.68" y="329.99" width="1.00" height="1.00" fill="#7a7a7a" />
<path d="M295.98 333.49 L298.98 330.49 L301.98 333.49 L298.98 336.49 Z" fill="#a4a4a4"/>
<rect x="298.38" y="332.89" width="1.20" height="1.20" fill="#e8e8e8" />
<rect x="296.28" y="335.99" width="1.00" height="1.00" fill="#7a7a7a" />
<rect x="300.68" y="335.99" width="1.00" height="1.00" fill="#7a7a7a" />
<path d="M295.98 339.49 L298.98 336.49 L301.98 339.49 L298.98 342.49 Z" fill="#a4a4a4"/>
<line x1="296.98" y1="339.49" x2="300.98" y2="339.49" stroke="#f2f2f2" stroke-width="1" />
<line x1="298.98" y1="337.49" x2="298.98" y2="341.49" stroke="#f2f2f2" stroke-width="1" />
<rect x="296.28" y="341.99" width="1.00" height="1.00" fill="#7a7a7a" />
<rect x="300.68" y="341.99" width="1.00" height="1.00" fill="#7a7a7a" />
<path d="M295.98 345.49 L298.98 342.49 L301.98 345.49 L298.98 348.49 Z" fill="#a4a4a4"/>
<rect x="298.38" y="344.89" width="1.20" height="1.20" fill="#e8e8e8" />
<rect x="296.28" y="347.99" width="1.00" height="1.00" fill="#7a7a7a" />
<rect x="300.68" y="347.99" width="1.00" height="1.00" fill="#7a7a7a" />
<path d="M295.98 351.49 L298.98 348.49 L301.98 351.49 L298.98 354.49 Z" fill="#a4a4a4"/>
<line x1="296.98" y1="351.49" x2="300.98" y2="351.49" stroke="#f2f2f2" stroke-width="1" />
<line x1="298.98" y1="349.49" x2="298.98" y2="353.49" stroke="#f2f2f2" stroke-width="1" />
<rect x="296.28" y="353.99" width="1.00" height="1.00" fill="#7a7a7a" />
<rect x="300.68" y="353.99" width="1.00" height="1.00" fill="#7a7a7a" />
<path d="M295.98 357.49 L298.98 354.49 L301.98 357.49 L298.98 360.49 Z" fill="#a4a4a4"/>
<rect x="298.38" y="356.89" width="1.20" height="1.20" fill="#e8e8e8" />
<rect x="296.28" y="359.99" width="1.00" height="1.00" fill="#7a7a7a" />
<rect x="300.68" y="359.99" width="1.00" height="1.00" fill="#7a7a7a" />
<path d="M295.98 363.49 L298.98 360.49 L301.98 363.49 L298.98 366.49 Z" fill="#a4a4a4"/>
<line x1="296.98" y1="363.49" x2="300.98" y2="363.49" stroke="#f2f2f2" stroke-width="1" />
<line x1="298.98" y1="361.49" x2="298.98" y2="365.49" stroke="#f2f2f2" stroke-width="1" />
<rect x="296.28" y="365.99" width="1.00" height="1.00" fill="#7a7a7a" />
<rect x="300.68" y="365.99" width="1.00" height="1.00" fill="#7a7a7a" />
<path d="M295.98 369.49 L298.98 366.49 L301.98 369.49 L298.98 372.49 Z" fill="#a4a4a4"/>
<rect x="298.38" y="368.89" width="1.20" height="1.20" fill="#e8e8e8" />
<rect x="296.28" y="371.99" width="1.00" height="1.00" fill="#7a7a7a" />
<rect x="300.68" y="371.99" width="1.00" height="1.00" fill="#7a7a7a" />
<path d="M295.98 375.49 L298.98 372.49 L301.98 375.49 L298.98 378.49 Z" fill="#a4a4a4"/>
<line x1="296.98" y1="375.49" x2="300.98" y2="375.49" stroke="#f2f2f2" stroke-width="1" />
<line x1="298.98" y1="373.49" x2="298.98" y2="377.49" stroke="#f2f2f2" stroke-width="1" />
<rect x="296.28" y="377.99" width="1.00" height="1.00" fill="#7a7a7a" />
<rect x="300.68" y="377.99" width="1.00" height="1.00" fill="#7a7a7a" />
<text x="294.38" y="402.50" font-size="11" font-weight="bold" fill="#000" stroke="#000" stroke-width="0.4" text-anchor="middle" >9</text>
<rect x="315.94" y="376.37" width="8.20" height="4.83" fill="#050505" />
<rect x="324.14" y="244.85" width="8.20" height="136.35" fill="#000" />
<path d="M325.24 248.85 L328.24 245.85 L331.24 248.85 L328.24 251.85 Z" fill="#a4a4a4"/>
<line x1="326.24" y1="248.85" x2="330.24" y2="248.85" stroke="#f2f2f2" stroke-width="1" />
<line x1="328.24" y1="246.85" x2="328.24" y2="250.85" stroke="#f2f2f2" stroke-width="1" />
<rect x="325.54" y="251.35" width="1.00" height="1.00" fill="#7a7a7a" />
<rect x="329.94" y="251.35" width="1.00" height="1.00" fill="#7a7a7a" />
<path d="M325.24 254.85 L328.24 251.85 L331.24 254.85 L328.24 257.85 Z" fill="#a4a4a4"/>
<rect x="327.64" y="254.25" width="1.20" height="1.20" fill="#e8e8e8" />
<rect x="325.54" y="257.35" width="1.00" height="1.00" fill="#7a7a7a" />
<rect x="329.94" y="257.35" width="1.00" height="1.00" fill="#7a7a7a" />
<path d="M325.24 260.85 L328.24 257.85 L331.24 260.85 L328.24 263.85 Z" fill="#a4a4a4"/>
<line x1="326.24" y1="260.85" x2="330.24" y2="260.85" stroke="#f2f2f2" stroke-width="1" />
<line x1="328.24" y1="258.85" x2="328.24" y2="262.85" stroke="#f2f2f2" stroke-width="1" />
<rect x="325.54" y="263.35" width="1.00" height="1.00" fill="#7a7a7a" />
<rect x="329.94" y="263.35" width="1.00" height="1.00" fill="#7a7a7a" />
<path d="M325.24 266.85 L328.24 263.85 L331.24 266.85 L328.24 269.85 Z" fill="#a4a4a4"/>
<rect x="327.64" y="266.25" width="1.20" height="1.20" fill="#e8e8e8" />
<rect x="325.54" y="269.35" width="1.00" height="1.00" fill="#7a7a7a" />
<rect x="329.94" y="269.35" width="1.00" height="1.00" fill="#7a7a7a" />
<path d="M325.24 272.85 L328.24 269.85 L331.24 272.85 L328.24 275.85 Z" fill="#a4a4a4"/>
<line x1="326.24" y1="272.85" x2="330.24" y2="272.85" stroke="#f2f2f2" stroke-width="1" />
<line x1="328.24" y1="270.85" x2="328.24" y2="274.85" stroke="#f2f2f2" stroke-width="1" />
<rect x="325.54" y="275.35" width="1.00" height="1.00" fill="#7a7a7a" />
<rect x="329.94" y="275.35" width="1.00" height="1.00" fill="#7a7a7a" />
<path d="M325.24 278.85 L328.24 275.85 L331.24 278.85 L328.24 281.85 Z" fill="#a4a4a4"/>
<rect x="327.64" y="278.25" width="1.20" height="1.20" fill="#e8e8e8" />
<rect x="325.54" y="281.35" width="1.00" height="1.00" fill="#7a7a7a" />
<rect x="329.94" y="281.35" width="1.00" height="1.00" fill="#7a7a7a" />
<path d="M325.24 284.85 L328.24 281.85 L331.24 284.85 L328.24 287.85 Z" fill="#a4a4a4"/>
<line x1="326.24" y1="284.85" x2="330.24" y2="284.85" stroke="#f2f2f2" stroke-width="1" />
<line x1="328.24" y1="282.85" x2="328.24" y2="286.85" stroke="#f2f2f2" stroke-width="1" />
<rect x="325.54" y="287.35" width="1.00" height="1.00" fill="#7a7a7a" />
<rect x="329.94" y="287.35" width="1.00" height="1.00" fill="#7a7a7a" />
<path d="M325.24 290.85 L328.24 287.85 L331.24 290.85 L328.24 293.85 Z" fill="#a4a4a4"/>
<rect x="327.64" y="290.25" width="1.20" height="1.20" fill="#e8e8e8" />
<rect x="325.54" y="293.35" width="1.00" height="1.00" fill="#7a7a7a" />
<rect x="329.94" y="293.35" width="1.00" height="1.00" fill="#7a7a7a" />
<path d="M325.24 296.85 L328.24 293.85 L331.24 296.85 L328.24 299.85 Z" fill="#a4a4a4"/>
<line x1="326.24" y1="296.85" x2="330.24" y2="296.85" stroke="#f2f2f2" stroke-width="1" />
<line x1="328.24" y1="294.85" x2="328.24" y2="298.85" stroke="#f2f2f2" stroke-width="1" />
<rect x="325.54" y="299.35" width="1.00" height="1.00" fill="#7a7a7a" />
<rect x="329.94" y="299.35" width="1.00" height="1.00" fill="#7a7a7a" />
<path d="M325.24 302.85 L328.24 299.85 L331.24 302.85 L328.24 305.85 Z" fill="#a4a4a4"/>
<rect x="327.64" y="302.25" width="1.20" height="1.20" fill="#e8e8e8" />
<rect x="325.54" y="305.35" width="1.00" height="1.00" fill="#7a7a7a" />
<rect x="329.94" y="305.35" width="1.00" height="1.00" fill="#7a7a7a" />
<path d="M325.24 308.85 L328.24 305.85 L331.24 308.85 L328.24 311.85 Z" fill="#a4a4a4"/>
<line x1="326.24" y1="308.85" x2="330.24" y2="308.85" stroke="#f2f2f2" stroke-width="1" />
<line x1="328.24" y1="306.85" x2="328.24" y2="310.85" stroke="#f2f2f2" stroke-width="1" />
<rect x="325.54" y="311.35" width="1.00" height="1.00" fill="#7a7a7a" />
<rect x="329.94" y="311.35" width="1.00" height="1.00" fill="#7a7a7a" />
<path d="M325.24 314.85 L328.24 311.85 L331.24 314.85 L328.24 317.85 Z" fill="#a4a4a4"/>
<rect x="327.64" y="314.25" width="1.20" height="1.20" fill="#e8e8e8" />
<rect x="325.54" y="317.35" width="1.00" height="1.00" fill="#7a7a7a" />
<rect x="329.94" y="317.35" width="1.00" height="1.00" fill="#7a7a7a" />
<path d="M325.24 320.85 L328.24 317.85 L331.24 320.85 L328.24 323.85 Z" fill="#a4a4a4"/>
<line x1="326.24" y1="320.85" x2="330.24" y2="320.85" stroke="#f2f2f2" stroke-width="1" />
<line x1="328.24" y1="318.85" x2="328.24" y2="322.85" stroke="#f2f2f2" stroke-width="1" />
<rect x="325.54" y="323.35" width="1.00" height="1.00" fill="#7a7a7a" />
<rect x="329.94" y="323.35" width="1.00" height="1.00" fill="#7a7a7a" />
<path d="M325.24 326.85 L328.24 323.85 L331.24 326.85 L328.24 329.85 Z" fill="#a4a4a4"/>
<rect x="327.64" y="326.25" width="1.20" height="1.20" fill="#e8e8e8" />
<rect x="325.54" y="329.35" width="1.00" height="1.00" fill="#7a7a7a" />
<rect x="329.94" y="329.35" width="1.00" height="1.00" fill="#7a7a7a" />
<path d="M325.24 332.85 L328.24 329.85 L331.24 332.85 L328.24 335.85 Z" fill="#a4a4a4"/>
<line x1="326.24" y1="332.85" x2="330.24" y2="332.85" stroke="#f2f2f2" stroke-width="1" />
<line x1="328.24" y1="330.85" x2="328.24" y2="334.85" stroke="#f2f2f2" stroke-width="1" />
<rect x="325.54" y="335.35" width="1.00" height="1.00" fill="#7a7a7a" />
<rect x="329.94" y="335.35" width="1.00" height="1.00" fill="#7a7a7a" />
<path d="M325.24 338.85 L328.24 335.85 L331.24 338.85 L328.24 341.85 Z" fill="#a4a4a4"/>
<rect x="327.64" y="338.25" width="1.20" height="1.20" fill="#e8e8e8" />
<rect x="325.54" y="341.35" width="1.00" height="1.00" fill="#7a7a7a" />
<rect x="329.94" y="341.35" width="1.00" height="1.00" fill="#7a7a7a" />
<path d="M325.24 344.85 L328.24 341.85 L331.24 344.85 L328.24 347.85 Z" fill="#a4a4a4"/>
<line x1="326.24" y1="344.85" x2="330.24" y2="344.85" stroke="#f2f2f2" stroke-width="1" />
<line x1="328.24" y1="342.85" x2="328.24" y2="346.85" stroke="#f2f2f2" stroke-width="1" />
<rect x="325.54" y="347.35" width="1.00" height="1.00" fill="#7a7a7a" />
<rect x="329.94" y="347.35" width="1.00" height="1.00" fill="#7a7a7a" />
<path d="M325.24 350.85 L328.24 347.85 L331.24 350.85 L328.24 353.85 Z" fill="#a4a4a4"/>
<rect x="327.64" y="350.25" width="1.20" height="1.20" fill="#e8e8e8" />
<rect x="325.54" y="353.35" width="1.00" height="1.00" fill="#7a7a7a" />
<rect x="329.94" y="353.35" width="1.00" height="1.00" fill="#7a7a7a" />
<path d="M325.24 356.85 L328.24 353.85 L331.24 356.85 L328.24 359.85 Z" fill="#a4a4a4"/>
<line x1="326.24" y1="356.85" x2="330.24" y2="356.85" stroke="#f2f2f2" stroke-width="1" />
<line x1="328.24" y1="354.85" x2="328.24" y2="358.85" stroke="#f2f2f2" stroke-width="1" />
<rect x="325.54" y="359.35" width="1.00" height="1.00" fill="#7a7a7a" />
<rect x="329.94" y="359.35" width="1.00" height="1.00" fill="#7a7a7a" />
<path d="M325.24 362.85 L328.24 359.85 L331.24 362.85 L328.24 365.85 Z" fill="#a4a4a4"/>
<rect x="327.64" y="362.25" width="1.20" height="1.20" fill="#e8e8e8" />
<rect x="325.54" y="365.35" width="1.00" height="1.00" fill="#7a7a7a" />
<rect x="329.94" y="365.35" width="1.00" height="1.00" fill="#7a7a7a" />
<path d="M325.24 368.85 L328.24 365.85 L331.24 368.85 L328.24 371.85 Z" fill="#a4a4a4"/>
<line x1="326.24" y1="368.85" x2="330.24" y2="368.85" stroke="#f2f2f2" stroke-width="1" />
<line x1="328.24" y1="366.85" x2="328.24" y2="370.85" stroke="#f2f2f2" stroke-width="1" />
<rect x="325.54" y="371.35" width="1.00" height="1.00" fill="#7a7a7a" />
<rect x="329.94" y="371.35" width="1.00" height="1.00" fill="#7a7a7a" />
<path d="M325.24 374.85 L328.24 371.85 L331.24 374.85 L328.24 377.85 Z" fill="#a4a4a4"/>
<rect x="327.64" y="374.25" width="1.20" height="1.20" fill="#e8e8e8" />
<rect x="325.54" y="377.35" width="1.00" height="1.00" fill="#7a7a7a" />
<rect x="329.94" y="377.35" width="1.00" height="1.00" fill="#7a7a7a" />
<text x="323.64" y="402.50" font-size="11" font-weight="bold" fill="#000" stroke="#000" stroke-width="0.4" text-anchor="middle" >10</text>
<text x="189.70" y="232.50" font-size="13.5" font-weight="bold" fill="#000" stroke="#000" stroke-width="0.4" text-anchor="middle" textLength="58.00" lengthAdjust="spacingAndGlyphs" >AT-MSCs</text>
<g transform="translate(11.00 0) rotate(-90)" font-size="11" font-weight="bold" fill="#000" stroke="#000" stroke-width="0.35"><text x="-362.80" y="0" textLength="28.30" lengthAdjust="spacingAndGlyphs">MSCs</text><text x="-330.50" y="0" textLength="26.70" lengthAdjust="spacingAndGlyphs">(x10<tspan font-size="0.74em" dy="-0.36em">6</tspan><tspan dy="0.36em">)</tspan></text><text x="-301.40" y="0" textLength="36.50" lengthAdjust="spacingAndGlyphs">/ gram</text></g>
<rect x="343.90" y="245.60" width="7.30" height="7.70" fill="url(#pD)" stroke="#000" stroke-width="1" />
<rect x="343.90" y="264.50" width="7.30" height="7.10" fill="url(#pX)" stroke="#000" stroke-width="1" />
<text x="353.70" y="254.60" font-size="11.5" font-weight="bold" fill="#000" stroke="#000" stroke-width="0.4" textLength="12.50" lengthAdjust="spacingAndGlyphs" >P1</text>
<text x="353.70" y="272.90" font-size="11.5" font-weight="bold" fill="#000" stroke="#000" stroke-width="0.4" textLength="12.50" lengthAdjust="spacingAndGlyphs" >P2</text>
<text x="-0.60" y="16.30" font-size="23.5" font-weight="bold" fill="#000" stroke="#000" stroke-width="0.4" textLength="16.20" lengthAdjust="spacingAndGlyphs" >A</text>
<text x="137.60" y="463.30" font-size="22" font-weight="bold" fill="#000" stroke="#000" stroke-width="0.4" textLength="13.00" lengthAdjust="spacingAndGlyphs" >B</text>
<text x="136.60" y="738.00" font-size="22.5" font-weight="bold" fill="#000" stroke="#000" stroke-width="0.4" textLength="14.00" lengthAdjust="spacingAndGlyphs" >C</text>
<line x1="201.60" y1="454.50" x2="201.60" y2="660.00" stroke="#d0d0d0" stroke-width="1" />
<line x1="197.60" y1="656.60" x2="201.60" y2="656.60" stroke="#d0d0d0" stroke-width="1" />
<text x="189.90" y="662.30" font-size="11" font-weight="normal" fill="#1a1a1a" stroke="#1a1a1a" stroke-width="0.25" text-anchor="end" >0</text>
<line x1="197.60" y1="625.50" x2="201.60" y2="625.50" stroke="#d0d0d0" stroke-width="1" />
<text x="189.90" y="631.20" font-size="11" font-weight="normal" fill="#1a1a1a" stroke="#1a1a1a" stroke-width="0.25" text-anchor="end" >10</text>
<line x1="197.60" y1="594.40" x2="201.60" y2="594.40" stroke="#d0d0d0" stroke-width="1" />
<text x="189.90" y="600.10" font-size="11" font-weight="normal" fill="#1a1a1a" stroke="#1a1a1a" stroke-width="0.25" text-anchor="end" >20</text>
<line x1="197.60" y1="563.30" x2="201.60" y2="563.30" stroke="#d0d0d0" stroke-width="1" />
<text x="189.90" y="569.00" font-size="11" font-weight="normal" fill="#1a1a1a" stroke="#1a1a1a" stroke-width="0.25" text-anchor="end" >30</text>
<line x1="197.60" y1="532.20" x2="201.60" y2="532.20" stroke="#d0d0d0" stroke-width="1" />
<text x="189.90" y="537.90" font-size="11" font-weight="normal" fill="#1a1a1a" stroke="#1a1a1a" stroke-width="0.25" text-anchor="end" >40</text>
<line x1="197.60" y1="501.10" x2="201.60" y2="501.10" stroke="#d0d0d0" stroke-width="1" />
<text x="189.90" y="506.80" font-size="11" font-weight="normal" fill="#1a1a1a" stroke="#1a1a1a" stroke-width="0.25" text-anchor="end" >50</text>
<line x1="197.60" y1="470.00" x2="201.60" y2="470.00" stroke="#d0d0d0" stroke-width="1" />
<text x="189.90" y="475.70" font-size="11" font-weight="normal" fill="#1a1a1a" stroke="#1a1a1a" stroke-width="0.25" text-anchor="end" >60</text>
<line x1="201.60" y1="656.60" x2="530.20" y2="656.60" stroke="#8a8a8a" stroke-width="1.2" />
<line x1="311.10" y1="656.60" x2="311.10" y2="660.20" stroke="#8a8a8a" stroke-width="1" />
<line x1="420.60" y1="656.60" x2="420.60" y2="660.20" stroke="#8a8a8a" stroke-width="1" />
<line x1="530.10" y1="656.60" x2="530.10" y2="660.20" stroke="#8a8a8a" stroke-width="1" />
<rect x="220.30" y="648.39" width="35.90" height="7.71" fill="url(#pB1)" stroke="#000" stroke-width="1" />
<rect x="257.20" y="590.86" width="36.00" height="65.24" fill="url(#pV)" stroke="#6e6e6e" stroke-width="1" />
<rect x="257.70" y="591.86" width="35.00" height="7.00" fill="url(#pVs)" />
<line x1="257.20" y1="591.16" x2="293.20" y2="591.16" stroke="#6a6a6a" stroke-width="1.6" />
<line x1="238.25" y1="646.34" x2="238.25" y2="647.89" stroke="#666" stroke-width="1.2" />
<line x1="233.75" y1="646.34" x2="242.75" y2="646.34" stroke="#444" stroke-width="1.4" />
<line x1="275.20" y1="570.14" x2="275.20" y2="590.36" stroke="#b5b5b5" stroke-width="1.8" />
<line x1="275.20" y1="590.36" x2="275.20" y2="610.26" stroke="#5a5a5a" stroke-width="1.8" />
<line x1="270.60" y1="570.14" x2="279.80" y2="570.14" stroke="#4a4a4a" stroke-width="1.5" />
<line x1="270.60" y1="610.26" x2="279.80" y2="610.26" stroke="#5a5a5a" stroke-width="1.2" />
<rect x="329.70" y="652.75" width="35.60" height="3.35" fill="url(#pB1)" stroke="#000" stroke-width="1" />
<rect x="366.30" y="611.69" width="36.10" height="44.41" fill="url(#pV)" stroke="#6e6e6e" stroke-width="1" />
<rect x="366.80" y="612.69" width="35.10" height="7.00" fill="url(#pVs)" />
<line x1="366.30" y1="611.99" x2="402.40" y2="611.99" stroke="#6a6a6a" stroke-width="1.6" />
<line x1="347.50" y1="651.16" x2="347.50" y2="652.25" stroke="#666" stroke-width="1.2" />
<line x1="343.00" y1="651.16" x2="352.00" y2="651.16" stroke="#444" stroke-width="1.4" />
<line x1="384.35" y1="601.24" x2="384.35" y2="611.19" stroke="#b5b5b5" stroke-width="1.8" />
<line x1="384.35" y1="611.19" x2="384.35" y2="622.08" stroke="#5a5a5a" stroke-width="1.8" />
<line x1="379.75" y1="601.24" x2="388.95" y2="601.24" stroke="#4a4a4a" stroke-width="1.5" />
<line x1="379.75" y1="622.08" x2="388.95" y2="622.08" stroke="#5a5a5a" stroke-width="1.2" />
<rect x="439.80" y="647.15" width="35.30" height="8.95" fill="url(#pB1)" stroke="#000" stroke-width="1" />
<rect x="476.10" y="518.39" width="36.00" height="137.71" fill="url(#pV)" stroke="#6e6e6e" stroke-width="1" />
<rect x="476.60" y="519.39" width="35.00" height="7.00" fill="url(#pVs)" />
<line x1="476.10" y1="518.69" x2="512.10" y2="518.69" stroke="#6a6a6a" stroke-width="1.6" />
<line x1="457.45" y1="645.40" x2="457.45" y2="646.65" stroke="#666" stroke-width="1.2" />
<line x1="452.95" y1="645.40" x2="461.95" y2="645.40" stroke="#444" stroke-width="1.4" />
<line x1="494.10" y1="478.09" x2="494.10" y2="517.89" stroke="#b5b5b5" stroke-width="1.8" />
<line x1="494.10" y1="517.89" x2="494.10" y2="557.39" stroke="#5a5a5a" stroke-width="1.8" />
<line x1="489.50" y1="478.09" x2="498.70" y2="478.09" stroke="#4a4a4a" stroke-width="1.5" />
<line x1="489.50" y1="557.39" x2="498.70" y2="557.39" stroke="#5a5a5a" stroke-width="1.2" />
<text x="356.15" y="444.40" font-size="12.5" font-weight="bold" fill="#111" stroke="#111" stroke-width="0.4" text-anchor="middle" textLength="73.50" lengthAdjust="spacingAndGlyphs" >MSCs YIELD</text>
<text x="256.50" y="677.20" font-size="10" font-weight="bold" fill="#1a1a1a" stroke="#1a1a1a" stroke-width="0.4" text-anchor="middle" textLength="49.80" lengthAdjust="spacingAndGlyphs" >BM-MSCs</text>
<text x="366.20" y="677.40" font-size="10" font-weight="bold" fill="#1a1a1a" stroke="#1a1a1a" stroke-width="0.4" text-anchor="middle" textLength="52.00" lengthAdjust="spacingAndGlyphs" >UCT-MSCs</text>
<text x="476.15" y="677.60" font-size="10" font-weight="bold" fill="#1a1a1a" stroke="#1a1a1a" stroke-width="0.4" text-anchor="middle" textLength="45.10" lengthAdjust="spacingAndGlyphs" >AT-MSCs</text>
<text x="494.10" y="470.60" font-size="19" font-weight="bold" fill="#000" stroke="#000" stroke-width="0.4" text-anchor="middle" >*</text>
<rect x="541.90" y="474.50" width="6.80" height="6.20" fill="url(#pB1)" stroke="#000" stroke-width="1" />
<rect x="541.90" y="498.30" width="6.80" height="6.20" fill="url(#pVs)" stroke="#666" stroke-width="1" />
<text x="554.70" y="482.80" font-size="10.5" font-weight="bold" fill="#111" stroke="#111" stroke-width="0.4" textLength="11.90" lengthAdjust="spacingAndGlyphs" >P1</text>
<text x="554.70" y="506.60" font-size="10.5" font-weight="bold" fill="#111" stroke="#111" stroke-width="0.4" textLength="11.90" lengthAdjust="spacingAndGlyphs" >P2</text>
<g transform="translate(168.20 0) rotate(-90)" font-size="11.5" font-weight="bold" fill="#111" stroke="#111" stroke-width="0.25"><text x="-607.00" y="0" textLength="33.60" lengthAdjust="spacingAndGlyphs">MSCs</text><text x="-568.80" y="0" textLength="32.40" lengthAdjust="spacingAndGlyphs">(x10<tspan font-size="0.74em" dy="-0.36em">6</tspan><tspan dy="0.36em">)</tspan></text><text x="-533.60" y="0" textLength="20.50" lengthAdjust="spacingAndGlyphs">/ gr</text></g>
<line x1="211.60" y1="882.42" x2="551.50" y2="882.42" stroke="#ececec" stroke-width="1" />
<line x1="211.60" y1="854.73" x2="551.50" y2="854.73" stroke="#ececec" stroke-width="1" />
<line x1="211.60" y1="827.05" x2="551.50" y2="827.05" stroke="#ececec" stroke-width="1" />
<line x1="211.60" y1="799.36" x2="551.50" y2="799.36" stroke="#ececec" stroke-width="1" />
<line x1="211.60" y1="771.68" x2="551.50" y2="771.68" stroke="#ececec" stroke-width="1" />
<line x1="211.60" y1="743.99" x2="551.50" y2="743.99" stroke="#ececec" stroke-width="1" />
<line x1="551.50" y1="743.99" x2="551.50" y2="910.10" stroke="#ececec" stroke-width="1" />
<line x1="211.60" y1="743.99" x2="211.60" y2="910.10" stroke="#8a8a8a" stroke-width="1.2" />
<line x1="211.60" y1="910.10" x2="551.50" y2="910.10" stroke="#8a8a8a" stroke-width="1.2" />
<text x="199.60" y="914.10" font-size="11" font-weight="bold" fill="#111" stroke="#111" stroke-width="0.4" text-anchor="end" textLength="16.60" lengthAdjust="spacingAndGlyphs" >0,0</text>
<text x="199.60" y="886.42" font-size="11" font-weight="bold" fill="#111" stroke="#111" stroke-width="0.4" text-anchor="end" textLength="16.60" lengthAdjust="spacingAndGlyphs" >0,5</text>
<text x="199.60" y="858.73" font-size="11" font-weight="bold" fill="#111" stroke="#111" stroke-width="0.4" text-anchor="end" textLength="16.60" lengthAdjust="spacingAndGlyphs" >1,0</text>
<text x="199.60" y="831.05" font-size="11" font-weight="bold" fill="#111" stroke="#111" stroke-width="0.4" text-anchor="end" textLength="16.60" lengthAdjust="spacingAndGlyphs" >1,5</text>
<text x="199.60" y="803.36" font-size="11" font-weight="bold" fill="#111" stroke="#111" stroke-width="0.4" text-anchor="end" textLength="16.60" lengthAdjust="spacingAndGlyphs" >2,0</text>
<text x="199.60" y="775.68" font-size="11" font-weight="bold" fill="#111" stroke="#111" stroke-width="0.4" text-anchor="end" textLength="16.60" lengthAdjust="spacingAndGlyphs" >2,5</text>
<text x="199.60" y="747.99" font-size="11" font-weight="bold" fill="#111" stroke="#111" stroke-width="0.4" text-anchor="end" textLength="16.60" lengthAdjust="spacingAndGlyphs" >3,0</text>
<rect x="251.00" y="792.11" width="34.30" height="117.49" fill="url(#pC)" stroke="#7a7a7a" stroke-width="1.2" />
<line x1="268.15" y1="778.87" x2="268.15" y2="803.79" stroke="#7a7a7a" stroke-width="1.2" />
<line x1="264.15" y1="778.87" x2="272.15" y2="778.87" stroke="#7a7a7a" stroke-width="1.2" />
<line x1="264.15" y1="803.79" x2="272.15" y2="803.79" stroke="#7a7a7a" stroke-width="1.2" />
<text x="268.00" y="855.00" font-size="12" font-weight="bold" fill="#111" stroke="#111" stroke-width="0.4" text-anchor="middle" textLength="27.50" lengthAdjust="spacingAndGlyphs" >2,14</text>
<rect x="363.90" y="820.35" width="35.00" height="89.25" fill="url(#pC)" stroke="#7a7a7a" stroke-width="1.2" />
<line x1="381.40" y1="812.65" x2="381.40" y2="825.94" stroke="#7a7a7a" stroke-width="1.2" />
<line x1="377.40" y1="812.65" x2="385.40" y2="812.65" stroke="#7a7a7a" stroke-width="1.2" />
<line x1="377.40" y1="825.94" x2="385.40" y2="825.94" stroke="#7a7a7a" stroke-width="1.2" />
<text x="381.50" y="869.60" font-size="12" font-weight="bold" fill="#111" stroke="#111" stroke-width="0.4" text-anchor="middle" textLength="27.50" lengthAdjust="spacingAndGlyphs" >1,63</text>
<rect x="478.00" y="816.47" width="34.10" height="93.13" fill="url(#pC)" stroke="#7a7a7a" stroke-width="1.2" />
<line x1="495.05" y1="810.43" x2="495.05" y2="820.95" stroke="#7a7a7a" stroke-width="1.2" />
<line x1="491.05" y1="810.43" x2="499.05" y2="810.43" stroke="#7a7a7a" stroke-width="1.2" />
<line x1="491.05" y1="820.95" x2="499.05" y2="820.95" stroke="#7a7a7a" stroke-width="1.2" />
<text x="495.50" y="867.70" font-size="12" font-weight="bold" fill="#111" stroke="#111" stroke-width="0.4" text-anchor="middle" textLength="27.50" lengthAdjust="spacingAndGlyphs" >1,70</text>
<text x="363.60" y="716.90" font-size="14" font-weight="bold" fill="#111" stroke="#111" stroke-width="0.4" text-anchor="middle" textLength="27.00" lengthAdjust="spacingAndGlyphs" >PDT</text>
<text x="382.70" y="801.60" font-size="21" font-weight="bold" fill="#000" stroke="#000" stroke-width="0.4" text-anchor="middle" >*</text>
<text x="495.50" y="796.30" font-size="14.5" font-weight="bold" fill="#000" stroke="#000" stroke-width="0.4" text-anchor="middle" textLength="10.20" lengthAdjust="spacingAndGlyphs" >#</text>
<text x="268.90" y="931.60" font-size="10.5" font-weight="bold" fill="#111" stroke="#111" stroke-width="0.4" text-anchor="middle" textLength="51.60" lengthAdjust="spacingAndGlyphs" >BM-MSCs</text>
<text x="381.80" y="931.60" font-size="10.5" font-weight="bold" fill="#111" stroke="#111" stroke-width="0.4" text-anchor="middle" textLength="54.80" lengthAdjust="spacingAndGlyphs" >UCT-MSCs</text>
<text x="494.40" y="931.60" font-size="10.5" font-weight="bold" fill="#111" stroke="#111" stroke-width="0.4" text-anchor="middle" textLength="47.40" lengthAdjust="spacingAndGlyphs" >AT-MSCs</text>
<text x="168.8" y="829.4" font-size="12.5" font-weight="normal" stroke="#111" stroke-width="0.2" text-anchor="middle" textLength="27.2" lengthAdjust="spacingAndGlyphs" fill="#111" transform="rotate(-90 168.8 829.4)">Days</text>
</g>
</svg>
</body></html>
